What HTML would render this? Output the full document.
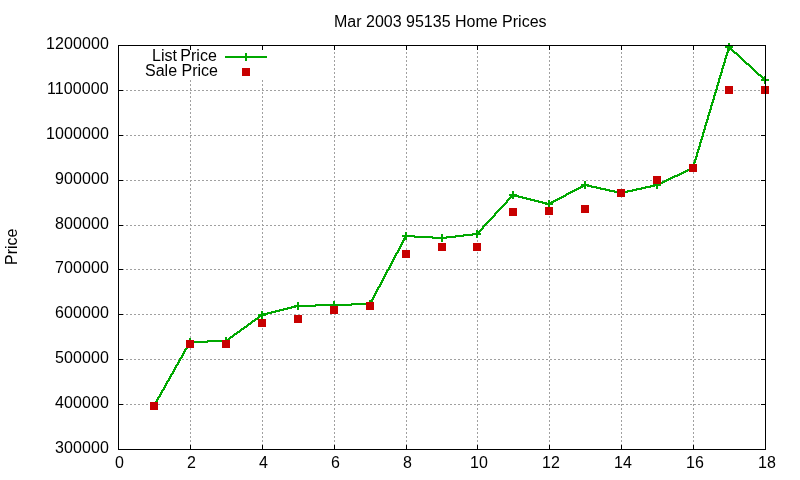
<!DOCTYPE html>
<html><head><meta charset="utf-8"><title>Mar 2003 95135 Home Prices</title>
<style>
html,body{margin:0;padding:0;background:#fff;}
body{width:800px;height:480px;position:relative;overflow:hidden;font-family:"Liberation Sans",sans-serif;}
#txt{position:absolute;left:0;top:0;width:800px;height:480px;will-change:transform;background:transparent;}
.t{position:absolute;font-family:"Liberation Sans",sans-serif;font-size:16px;line-height:18px;height:18px;white-space:nowrap;color:#000;}
</style></head><body>
<svg width="800" height="480" viewBox="0 0 800 480" shape-rendering="crispEdges" style="position:absolute;left:0;top:0"><path fill="#a0a0a0" d="M190 45h1v1h-1zM262 45h1v1h-1zM334 45h1v1h-1zM406 45h1v1h-1zM477 45h1v1h-1zM549 45h1v1h-1zM621 45h1v1h-1zM693 45h1v1h-1zM190 48h1v1h-1zM262 48h1v1h-1zM334 48h1v1h-1zM406 48h1v1h-1zM477 48h1v1h-1zM549 48h1v1h-1zM621 48h1v1h-1zM693 48h1v1h-1zM190 49h1v1h-1zM262 49h1v1h-1zM334 49h1v1h-1zM406 49h1v1h-1zM477 49h1v1h-1zM549 49h1v1h-1zM621 49h1v1h-1zM693 49h1v1h-1zM334 52h1v1h-1zM406 52h1v1h-1zM477 52h1v1h-1zM549 52h1v1h-1zM621 52h1v1h-1zM693 52h1v1h-1zM334 53h1v1h-1zM406 53h1v1h-1zM477 53h1v1h-1zM549 53h1v1h-1zM621 53h1v1h-1zM693 53h1v1h-1zM334 56h1v1h-1zM406 56h1v1h-1zM477 56h1v1h-1zM549 56h1v1h-1zM621 56h1v1h-1zM693 56h1v1h-1zM334 57h1v1h-1zM406 57h1v1h-1zM477 57h1v1h-1zM549 57h1v1h-1zM621 57h1v1h-1zM693 57h1v1h-1zM334 60h1v1h-1zM406 60h1v1h-1zM477 60h1v1h-1zM549 60h1v1h-1zM621 60h1v1h-1zM693 60h1v1h-1zM334 61h1v1h-1zM406 61h1v1h-1zM477 61h1v1h-1zM549 61h1v1h-1zM621 61h1v1h-1zM693 61h1v1h-1zM334 64h1v1h-1zM406 64h1v1h-1zM477 64h1v1h-1zM549 64h1v1h-1zM621 64h1v1h-1zM693 64h1v1h-1zM334 65h1v1h-1zM406 65h1v1h-1zM477 65h1v1h-1zM549 65h1v1h-1zM621 65h1v1h-1zM693 65h1v1h-1zM334 68h1v1h-1zM406 68h1v1h-1zM477 68h1v1h-1zM549 68h1v1h-1zM621 68h1v1h-1zM693 68h1v1h-1zM334 69h1v1h-1zM406 69h1v1h-1zM477 69h1v1h-1zM549 69h1v1h-1zM621 69h1v1h-1zM693 69h1v1h-1zM334 72h1v1h-1zM406 72h1v1h-1zM477 72h1v1h-1zM549 72h1v1h-1zM621 72h1v1h-1zM693 72h1v1h-1zM334 73h1v1h-1zM406 73h1v1h-1zM477 73h1v1h-1zM549 73h1v1h-1zM621 73h1v1h-1zM693 73h1v1h-1zM334 76h1v1h-1zM406 76h1v1h-1zM477 76h1v1h-1zM549 76h1v1h-1zM621 76h1v1h-1zM693 76h1v1h-1zM334 77h1v1h-1zM406 77h1v1h-1zM477 77h1v1h-1zM549 77h1v1h-1zM621 77h1v1h-1zM693 77h1v1h-1zM190 80h1v1h-1zM262 80h1v1h-1zM334 80h1v1h-1zM406 80h1v1h-1zM477 80h1v1h-1zM549 80h1v1h-1zM621 80h1v1h-1zM693 80h1v1h-1zM190 81h1v1h-1zM262 81h1v1h-1zM334 81h1v1h-1zM406 81h1v1h-1zM477 81h1v1h-1zM549 81h1v1h-1zM621 81h1v1h-1zM693 81h1v1h-1zM190 84h1v1h-1zM262 84h1v1h-1zM334 84h1v1h-1zM406 84h1v1h-1zM477 84h1v1h-1zM549 84h1v1h-1zM621 84h1v1h-1zM693 84h1v1h-1zM190 85h1v1h-1zM262 85h1v1h-1zM334 85h1v1h-1zM406 85h1v1h-1zM477 85h1v1h-1zM549 85h1v1h-1zM621 85h1v1h-1zM693 85h1v1h-1zM190 88h1v1h-1zM262 88h1v1h-1zM334 88h1v1h-1zM406 88h1v1h-1zM477 88h1v1h-1zM549 88h1v1h-1zM621 88h1v1h-1zM693 88h1v1h-1zM190 89h1v1h-1zM262 89h1v1h-1zM334 89h1v1h-1zM406 89h1v1h-1zM477 89h1v1h-1zM549 89h1v1h-1zM621 89h1v1h-1zM693 89h1v1h-1zM118 90h2v1h-2zM122 90h2v1h-2zM126 90h2v1h-2zM130 90h2v1h-2zM134 90h2v1h-2zM138 90h2v1h-2zM142 90h2v1h-2zM146 90h2v1h-2zM150 90h2v1h-2zM154 90h2v1h-2zM158 90h2v1h-2zM162 90h2v1h-2zM166 90h2v1h-2zM170 90h2v1h-2zM174 90h2v1h-2zM178 90h2v1h-2zM182 90h2v1h-2zM186 90h2v1h-2zM190 90h2v1h-2zM194 90h2v1h-2zM198 90h2v1h-2zM202 90h2v1h-2zM206 90h2v1h-2zM210 90h2v1h-2zM214 90h2v1h-2zM218 90h2v1h-2zM222 90h2v1h-2zM226 90h2v1h-2zM230 90h2v1h-2zM234 90h2v1h-2zM238 90h2v1h-2zM242 90h2v1h-2zM246 90h2v1h-2zM250 90h2v1h-2zM254 90h2v1h-2zM258 90h2v1h-2zM262 90h2v1h-2zM266 90h2v1h-2zM270 90h2v1h-2zM274 90h2v1h-2zM278 90h2v1h-2zM282 90h2v1h-2zM286 90h2v1h-2zM290 90h2v1h-2zM294 90h2v1h-2zM298 90h2v1h-2zM302 90h2v1h-2zM306 90h2v1h-2zM310 90h2v1h-2zM314 90h2v1h-2zM318 90h2v1h-2zM322 90h2v1h-2zM326 90h2v1h-2zM330 90h2v1h-2zM334 90h2v1h-2zM338 90h2v1h-2zM342 90h2v1h-2zM346 90h2v1h-2zM350 90h2v1h-2zM354 90h2v1h-2zM358 90h2v1h-2zM362 90h2v1h-2zM366 90h2v1h-2zM370 90h2v1h-2zM374 90h2v1h-2zM378 90h2v1h-2zM382 90h2v1h-2zM386 90h2v1h-2zM390 90h2v1h-2zM394 90h2v1h-2zM398 90h2v1h-2zM402 90h2v1h-2zM406 90h2v1h-2zM410 90h2v1h-2zM414 90h2v1h-2zM418 90h2v1h-2zM422 90h2v1h-2zM426 90h2v1h-2zM430 90h2v1h-2zM434 90h2v1h-2zM438 90h2v1h-2zM442 90h2v1h-2zM446 90h2v1h-2zM450 90h2v1h-2zM454 90h2v1h-2zM458 90h2v1h-2zM462 90h2v1h-2zM466 90h2v1h-2zM470 90h2v1h-2zM474 90h2v1h-2zM478 90h2v1h-2zM482 90h2v1h-2zM486 90h2v1h-2zM490 90h2v1h-2zM494 90h2v1h-2zM498 90h2v1h-2zM502 90h2v1h-2zM506 90h2v1h-2zM510 90h2v1h-2zM514 90h2v1h-2zM518 90h2v1h-2zM522 90h2v1h-2zM526 90h2v1h-2zM530 90h2v1h-2zM534 90h2v1h-2zM538 90h2v1h-2zM542 90h2v1h-2zM546 90h2v1h-2zM550 90h2v1h-2zM554 90h2v1h-2zM558 90h2v1h-2zM562 90h2v1h-2zM566 90h2v1h-2zM570 90h2v1h-2zM574 90h2v1h-2zM578 90h2v1h-2zM582 90h2v1h-2zM586 90h2v1h-2zM590 90h2v1h-2zM594 90h2v1h-2zM598 90h2v1h-2zM602 90h2v1h-2zM606 90h2v1h-2zM610 90h2v1h-2zM614 90h2v1h-2zM618 90h2v1h-2zM622 90h2v1h-2zM626 90h2v1h-2zM630 90h2v1h-2zM634 90h2v1h-2zM638 90h2v1h-2zM642 90h2v1h-2zM646 90h2v1h-2zM650 90h2v1h-2zM654 90h2v1h-2zM658 90h2v1h-2zM662 90h2v1h-2zM666 90h2v1h-2zM670 90h2v1h-2zM674 90h2v1h-2zM678 90h2v1h-2zM682 90h2v1h-2zM686 90h2v1h-2zM690 90h2v1h-2zM694 90h2v1h-2zM698 90h2v1h-2zM702 90h2v1h-2zM706 90h2v1h-2zM710 90h2v1h-2zM714 90h2v1h-2zM718 90h2v1h-2zM722 90h2v1h-2zM726 90h2v1h-2zM730 90h2v1h-2zM734 90h2v1h-2zM738 90h2v1h-2zM742 90h2v1h-2zM746 90h2v1h-2zM750 90h2v1h-2zM754 90h2v1h-2zM758 90h2v1h-2zM762 90h2v1h-2zM190 92h1v1h-1zM262 92h1v1h-1zM334 92h1v1h-1zM406 92h1v1h-1zM477 92h1v1h-1zM549 92h1v1h-1zM621 92h1v1h-1zM693 92h1v1h-1zM190 93h1v1h-1zM262 93h1v1h-1zM334 93h1v1h-1zM406 93h1v1h-1zM477 93h1v1h-1zM549 93h1v1h-1zM621 93h1v1h-1zM693 93h1v1h-1zM190 96h1v1h-1zM262 96h1v1h-1zM334 96h1v1h-1zM406 96h1v1h-1zM477 96h1v1h-1zM549 96h1v1h-1zM621 96h1v1h-1zM693 96h1v1h-1zM190 97h1v1h-1zM262 97h1v1h-1zM334 97h1v1h-1zM406 97h1v1h-1zM477 97h1v1h-1zM549 97h1v1h-1zM621 97h1v1h-1zM693 97h1v1h-1zM190 100h1v1h-1zM262 100h1v1h-1zM334 100h1v1h-1zM406 100h1v1h-1zM477 100h1v1h-1zM549 100h1v1h-1zM621 100h1v1h-1zM693 100h1v1h-1zM190 101h1v1h-1zM262 101h1v1h-1zM334 101h1v1h-1zM406 101h1v1h-1zM477 101h1v1h-1zM549 101h1v1h-1zM621 101h1v1h-1zM693 101h1v1h-1zM190 104h1v1h-1zM262 104h1v1h-1zM334 104h1v1h-1zM406 104h1v1h-1zM477 104h1v1h-1zM549 104h1v1h-1zM621 104h1v1h-1zM693 104h1v1h-1zM190 105h1v1h-1zM262 105h1v1h-1zM334 105h1v1h-1zM406 105h1v1h-1zM477 105h1v1h-1zM549 105h1v1h-1zM621 105h1v1h-1zM693 105h1v1h-1zM190 108h1v1h-1zM262 108h1v1h-1zM334 108h1v1h-1zM406 108h1v1h-1zM477 108h1v1h-1zM549 108h1v1h-1zM621 108h1v1h-1zM693 108h1v1h-1zM190 109h1v1h-1zM262 109h1v1h-1zM334 109h1v1h-1zM406 109h1v1h-1zM477 109h1v1h-1zM549 109h1v1h-1zM621 109h1v1h-1zM693 109h1v1h-1zM190 112h1v1h-1zM262 112h1v1h-1zM334 112h1v1h-1zM406 112h1v1h-1zM477 112h1v1h-1zM549 112h1v1h-1zM621 112h1v1h-1zM693 112h1v1h-1zM190 113h1v1h-1zM262 113h1v1h-1zM334 113h1v1h-1zM406 113h1v1h-1zM477 113h1v1h-1zM549 113h1v1h-1zM621 113h1v1h-1zM693 113h1v1h-1zM190 116h1v1h-1zM262 116h1v1h-1zM334 116h1v1h-1zM406 116h1v1h-1zM477 116h1v1h-1zM549 116h1v1h-1zM621 116h1v1h-1zM693 116h1v1h-1zM190 117h1v1h-1zM262 117h1v1h-1zM334 117h1v1h-1zM406 117h1v1h-1zM477 117h1v1h-1zM549 117h1v1h-1zM621 117h1v1h-1zM693 117h1v1h-1zM190 120h1v1h-1zM262 120h1v1h-1zM334 120h1v1h-1zM406 120h1v1h-1zM477 120h1v1h-1zM549 120h1v1h-1zM621 120h1v1h-1zM693 120h1v1h-1zM190 121h1v1h-1zM262 121h1v1h-1zM334 121h1v1h-1zM406 121h1v1h-1zM477 121h1v1h-1zM549 121h1v1h-1zM621 121h1v1h-1zM693 121h1v1h-1zM190 124h1v1h-1zM262 124h1v1h-1zM334 124h1v1h-1zM406 124h1v1h-1zM477 124h1v1h-1zM549 124h1v1h-1zM621 124h1v1h-1zM693 124h1v1h-1zM190 125h1v1h-1zM262 125h1v1h-1zM334 125h1v1h-1zM406 125h1v1h-1zM477 125h1v1h-1zM549 125h1v1h-1zM621 125h1v1h-1zM693 125h1v1h-1zM190 128h1v1h-1zM262 128h1v1h-1zM334 128h1v1h-1zM406 128h1v1h-1zM477 128h1v1h-1zM549 128h1v1h-1zM621 128h1v1h-1zM693 128h1v1h-1zM190 129h1v1h-1zM262 129h1v1h-1zM334 129h1v1h-1zM406 129h1v1h-1zM477 129h1v1h-1zM549 129h1v1h-1zM621 129h1v1h-1zM693 129h1v1h-1zM190 132h1v1h-1zM262 132h1v1h-1zM334 132h1v1h-1zM406 132h1v1h-1zM477 132h1v1h-1zM549 132h1v1h-1zM621 132h1v1h-1zM693 132h1v1h-1zM190 133h1v1h-1zM262 133h1v1h-1zM334 133h1v1h-1zM406 133h1v1h-1zM477 133h1v1h-1zM549 133h1v1h-1zM621 133h1v1h-1zM693 133h1v1h-1zM118 135h2v1h-2zM122 135h2v1h-2zM126 135h2v1h-2zM130 135h2v1h-2zM134 135h2v1h-2zM138 135h2v1h-2zM142 135h2v1h-2zM146 135h2v1h-2zM150 135h2v1h-2zM154 135h2v1h-2zM158 135h2v1h-2zM162 135h2v1h-2zM166 135h2v1h-2zM170 135h2v1h-2zM174 135h2v1h-2zM178 135h2v1h-2zM182 135h2v1h-2zM186 135h2v1h-2zM190 135h2v1h-2zM194 135h2v1h-2zM198 135h2v1h-2zM202 135h2v1h-2zM206 135h2v1h-2zM210 135h2v1h-2zM214 135h2v1h-2zM218 135h2v1h-2zM222 135h2v1h-2zM226 135h2v1h-2zM230 135h2v1h-2zM234 135h2v1h-2zM238 135h2v1h-2zM242 135h2v1h-2zM246 135h2v1h-2zM250 135h2v1h-2zM254 135h2v1h-2zM258 135h2v1h-2zM262 135h2v1h-2zM266 135h2v1h-2zM270 135h2v1h-2zM274 135h2v1h-2zM278 135h2v1h-2zM282 135h2v1h-2zM286 135h2v1h-2zM290 135h2v1h-2zM294 135h2v1h-2zM298 135h2v1h-2zM302 135h2v1h-2zM306 135h2v1h-2zM310 135h2v1h-2zM314 135h2v1h-2zM318 135h2v1h-2zM322 135h2v1h-2zM326 135h2v1h-2zM330 135h2v1h-2zM334 135h2v1h-2zM338 135h2v1h-2zM342 135h2v1h-2zM346 135h2v1h-2zM350 135h2v1h-2zM354 135h2v1h-2zM358 135h2v1h-2zM362 135h2v1h-2zM366 135h2v1h-2zM370 135h2v1h-2zM374 135h2v1h-2zM378 135h2v1h-2zM382 135h2v1h-2zM386 135h2v1h-2zM390 135h2v1h-2zM394 135h2v1h-2zM398 135h2v1h-2zM402 135h2v1h-2zM406 135h2v1h-2zM410 135h2v1h-2zM414 135h2v1h-2zM418 135h2v1h-2zM422 135h2v1h-2zM426 135h2v1h-2zM430 135h2v1h-2zM434 135h2v1h-2zM438 135h2v1h-2zM442 135h2v1h-2zM446 135h2v1h-2zM450 135h2v1h-2zM454 135h2v1h-2zM458 135h2v1h-2zM462 135h2v1h-2zM466 135h2v1h-2zM470 135h2v1h-2zM474 135h2v1h-2zM478 135h2v1h-2zM482 135h2v1h-2zM486 135h2v1h-2zM490 135h2v1h-2zM494 135h2v1h-2zM498 135h2v1h-2zM502 135h2v1h-2zM506 135h2v1h-2zM510 135h2v1h-2zM514 135h2v1h-2zM518 135h2v1h-2zM522 135h2v1h-2zM526 135h2v1h-2zM530 135h2v1h-2zM534 135h2v1h-2zM538 135h2v1h-2zM542 135h2v1h-2zM546 135h2v1h-2zM550 135h2v1h-2zM554 135h2v1h-2zM558 135h2v1h-2zM562 135h2v1h-2zM566 135h2v1h-2zM570 135h2v1h-2zM574 135h2v1h-2zM578 135h2v1h-2zM582 135h2v1h-2zM586 135h2v1h-2zM590 135h2v1h-2zM594 135h2v1h-2zM598 135h2v1h-2zM602 135h2v1h-2zM606 135h2v1h-2zM610 135h2v1h-2zM614 135h2v1h-2zM618 135h2v1h-2zM622 135h2v1h-2zM626 135h2v1h-2zM630 135h2v1h-2zM634 135h2v1h-2zM638 135h2v1h-2zM642 135h2v1h-2zM646 135h2v1h-2zM650 135h2v1h-2zM654 135h2v1h-2zM658 135h2v1h-2zM662 135h2v1h-2zM666 135h2v1h-2zM670 135h2v1h-2zM674 135h2v1h-2zM678 135h2v1h-2zM682 135h2v1h-2zM686 135h2v1h-2zM690 135h2v1h-2zM694 135h2v1h-2zM698 135h2v1h-2zM702 135h2v1h-2zM706 135h2v1h-2zM710 135h2v1h-2zM714 135h2v1h-2zM718 135h2v1h-2zM722 135h2v1h-2zM726 135h2v1h-2zM730 135h2v1h-2zM734 135h2v1h-2zM738 135h2v1h-2zM742 135h2v1h-2zM746 135h2v1h-2zM750 135h2v1h-2zM754 135h2v1h-2zM758 135h2v1h-2zM762 135h2v1h-2zM190 136h1v1h-1zM262 136h1v1h-1zM334 136h1v1h-1zM406 136h1v1h-1zM477 136h1v1h-1zM549 136h1v1h-1zM621 136h1v1h-1zM693 136h1v1h-1zM190 137h1v1h-1zM262 137h1v1h-1zM334 137h1v1h-1zM406 137h1v1h-1zM477 137h1v1h-1zM549 137h1v1h-1zM621 137h1v1h-1zM693 137h1v1h-1zM190 140h1v1h-1zM262 140h1v1h-1zM334 140h1v1h-1zM406 140h1v1h-1zM477 140h1v1h-1zM549 140h1v1h-1zM621 140h1v1h-1zM693 140h1v1h-1zM190 141h1v1h-1zM262 141h1v1h-1zM334 141h1v1h-1zM406 141h1v1h-1zM477 141h1v1h-1zM549 141h1v1h-1zM621 141h1v1h-1zM693 141h1v1h-1zM190 144h1v1h-1zM262 144h1v1h-1zM334 144h1v1h-1zM406 144h1v1h-1zM477 144h1v1h-1zM549 144h1v1h-1zM621 144h1v1h-1zM693 144h1v1h-1zM190 145h1v1h-1zM262 145h1v1h-1zM334 145h1v1h-1zM406 145h1v1h-1zM477 145h1v1h-1zM549 145h1v1h-1zM621 145h1v1h-1zM693 145h1v1h-1zM190 148h1v1h-1zM262 148h1v1h-1zM334 148h1v1h-1zM406 148h1v1h-1zM477 148h1v1h-1zM549 148h1v1h-1zM621 148h1v1h-1zM693 148h1v1h-1zM190 149h1v1h-1zM262 149h1v1h-1zM334 149h1v1h-1zM406 149h1v1h-1zM477 149h1v1h-1zM549 149h1v1h-1zM621 149h1v1h-1zM693 149h1v1h-1zM190 152h1v1h-1zM262 152h1v1h-1zM334 152h1v1h-1zM406 152h1v1h-1zM477 152h1v1h-1zM549 152h1v1h-1zM621 152h1v1h-1zM693 152h1v1h-1zM190 153h1v1h-1zM262 153h1v1h-1zM334 153h1v1h-1zM406 153h1v1h-1zM477 153h1v1h-1zM549 153h1v1h-1zM621 153h1v1h-1zM693 153h1v1h-1zM190 156h1v1h-1zM262 156h1v1h-1zM334 156h1v1h-1zM406 156h1v1h-1zM477 156h1v1h-1zM549 156h1v1h-1zM621 156h1v1h-1zM693 156h1v1h-1zM190 157h1v1h-1zM262 157h1v1h-1zM334 157h1v1h-1zM406 157h1v1h-1zM477 157h1v1h-1zM549 157h1v1h-1zM621 157h1v1h-1zM693 157h1v1h-1zM190 160h1v1h-1zM262 160h1v1h-1zM334 160h1v1h-1zM406 160h1v1h-1zM477 160h1v1h-1zM549 160h1v1h-1zM621 160h1v1h-1zM693 160h1v1h-1zM190 161h1v1h-1zM262 161h1v1h-1zM334 161h1v1h-1zM406 161h1v1h-1zM477 161h1v1h-1zM549 161h1v1h-1zM621 161h1v1h-1zM693 161h1v1h-1zM190 164h1v1h-1zM262 164h1v1h-1zM334 164h1v1h-1zM406 164h1v1h-1zM477 164h1v1h-1zM549 164h1v1h-1zM621 164h1v1h-1zM693 164h1v1h-1zM190 165h1v1h-1zM262 165h1v1h-1zM334 165h1v1h-1zM406 165h1v1h-1zM477 165h1v1h-1zM549 165h1v1h-1zM621 165h1v1h-1zM693 165h1v1h-1zM190 168h1v1h-1zM262 168h1v1h-1zM334 168h1v1h-1zM406 168h1v1h-1zM477 168h1v1h-1zM549 168h1v1h-1zM621 168h1v1h-1zM693 168h1v1h-1zM190 169h1v1h-1zM262 169h1v1h-1zM334 169h1v1h-1zM406 169h1v1h-1zM477 169h1v1h-1zM549 169h1v1h-1zM621 169h1v1h-1zM693 169h1v1h-1zM190 172h1v1h-1zM262 172h1v1h-1zM334 172h1v1h-1zM406 172h1v1h-1zM477 172h1v1h-1zM549 172h1v1h-1zM621 172h1v1h-1zM693 172h1v1h-1zM190 173h1v1h-1zM262 173h1v1h-1zM334 173h1v1h-1zM406 173h1v1h-1zM477 173h1v1h-1zM549 173h1v1h-1zM621 173h1v1h-1zM693 173h1v1h-1zM190 176h1v1h-1zM262 176h1v1h-1zM334 176h1v1h-1zM406 176h1v1h-1zM477 176h1v1h-1zM549 176h1v1h-1zM621 176h1v1h-1zM693 176h1v1h-1zM190 177h1v1h-1zM262 177h1v1h-1zM334 177h1v1h-1zM406 177h1v1h-1zM477 177h1v1h-1zM549 177h1v1h-1zM621 177h1v1h-1zM693 177h1v1h-1zM118 180h2v1h-2zM122 180h2v1h-2zM126 180h2v1h-2zM130 180h2v1h-2zM134 180h2v1h-2zM138 180h2v1h-2zM142 180h2v1h-2zM146 180h2v1h-2zM150 180h2v1h-2zM154 180h2v1h-2zM158 180h2v1h-2zM162 180h2v1h-2zM166 180h2v1h-2zM170 180h2v1h-2zM174 180h2v1h-2zM178 180h2v1h-2zM182 180h2v1h-2zM186 180h2v1h-2zM190 180h2v1h-2zM194 180h2v1h-2zM198 180h2v1h-2zM202 180h2v1h-2zM206 180h2v1h-2zM210 180h2v1h-2zM214 180h2v1h-2zM218 180h2v1h-2zM222 180h2v1h-2zM226 180h2v1h-2zM230 180h2v1h-2zM234 180h2v1h-2zM238 180h2v1h-2zM242 180h2v1h-2zM246 180h2v1h-2zM250 180h2v1h-2zM254 180h2v1h-2zM258 180h2v1h-2zM262 180h2v1h-2zM266 180h2v1h-2zM270 180h2v1h-2zM274 180h2v1h-2zM278 180h2v1h-2zM282 180h2v1h-2zM286 180h2v1h-2zM290 180h2v1h-2zM294 180h2v1h-2zM298 180h2v1h-2zM302 180h2v1h-2zM306 180h2v1h-2zM310 180h2v1h-2zM314 180h2v1h-2zM318 180h2v1h-2zM322 180h2v1h-2zM326 180h2v1h-2zM330 180h2v1h-2zM334 180h2v1h-2zM338 180h2v1h-2zM342 180h2v1h-2zM346 180h2v1h-2zM350 180h2v1h-2zM354 180h2v1h-2zM358 180h2v1h-2zM362 180h2v1h-2zM366 180h2v1h-2zM370 180h2v1h-2zM374 180h2v1h-2zM378 180h2v1h-2zM382 180h2v1h-2zM386 180h2v1h-2zM390 180h2v1h-2zM394 180h2v1h-2zM398 180h2v1h-2zM402 180h2v1h-2zM406 180h2v1h-2zM410 180h2v1h-2zM414 180h2v1h-2zM418 180h2v1h-2zM422 180h2v1h-2zM426 180h2v1h-2zM430 180h2v1h-2zM434 180h2v1h-2zM438 180h2v1h-2zM442 180h2v1h-2zM446 180h2v1h-2zM450 180h2v1h-2zM454 180h2v1h-2zM458 180h2v1h-2zM462 180h2v1h-2zM466 180h2v1h-2zM470 180h2v1h-2zM474 180h2v1h-2zM477 180h3v1h-3zM482 180h2v1h-2zM486 180h2v1h-2zM490 180h2v1h-2zM494 180h2v1h-2zM498 180h2v1h-2zM502 180h2v1h-2zM506 180h2v1h-2zM510 180h2v1h-2zM514 180h2v1h-2zM518 180h2v1h-2zM522 180h2v1h-2zM526 180h2v1h-2zM530 180h2v1h-2zM534 180h2v1h-2zM538 180h2v1h-2zM542 180h2v1h-2zM546 180h2v1h-2zM549 180h3v1h-3zM554 180h2v1h-2zM558 180h2v1h-2zM562 180h2v1h-2zM566 180h2v1h-2zM570 180h2v1h-2zM574 180h2v1h-2zM578 180h2v1h-2zM582 180h2v1h-2zM586 180h2v1h-2zM590 180h2v1h-2zM594 180h2v1h-2zM598 180h2v1h-2zM602 180h2v1h-2zM606 180h2v1h-2zM610 180h2v1h-2zM614 180h2v1h-2zM618 180h2v1h-2zM621 180h3v1h-3zM626 180h2v1h-2zM630 180h2v1h-2zM634 180h2v1h-2zM638 180h2v1h-2zM642 180h2v1h-2zM646 180h2v1h-2zM650 180h2v1h-2zM654 180h2v1h-2zM658 180h2v1h-2zM662 180h2v1h-2zM666 180h2v1h-2zM670 180h2v1h-2zM674 180h2v1h-2zM678 180h2v1h-2zM682 180h2v1h-2zM686 180h2v1h-2zM690 180h2v1h-2zM693 180h3v1h-3zM698 180h2v1h-2zM702 180h2v1h-2zM706 180h2v1h-2zM710 180h2v1h-2zM714 180h2v1h-2zM718 180h2v1h-2zM722 180h2v1h-2zM726 180h2v1h-2zM730 180h2v1h-2zM734 180h2v1h-2zM738 180h2v1h-2zM742 180h2v1h-2zM746 180h2v1h-2zM750 180h2v1h-2zM754 180h2v1h-2zM758 180h2v1h-2zM762 180h2v1h-2zM190 181h1v1h-1zM262 181h1v1h-1zM334 181h1v1h-1zM406 181h1v1h-1zM477 181h1v1h-1zM549 181h1v1h-1zM621 181h1v1h-1zM693 181h1v1h-1zM190 184h1v1h-1zM262 184h1v1h-1zM334 184h1v1h-1zM406 184h1v1h-1zM477 184h1v1h-1zM549 184h1v1h-1zM621 184h1v1h-1zM693 184h1v1h-1zM190 185h1v1h-1zM262 185h1v1h-1zM334 185h1v1h-1zM406 185h1v1h-1zM477 185h1v1h-1zM549 185h1v1h-1zM621 185h1v1h-1zM693 185h1v1h-1zM190 188h1v1h-1zM262 188h1v1h-1zM334 188h1v1h-1zM406 188h1v1h-1zM477 188h1v1h-1zM549 188h1v1h-1zM621 188h1v1h-1zM693 188h1v1h-1zM190 189h1v1h-1zM262 189h1v1h-1zM334 189h1v1h-1zM406 189h1v1h-1zM477 189h1v1h-1zM549 189h1v1h-1zM621 189h1v1h-1zM693 189h1v1h-1zM190 192h1v1h-1zM262 192h1v1h-1zM334 192h1v1h-1zM406 192h1v1h-1zM477 192h1v1h-1zM549 192h1v1h-1zM621 192h1v1h-1zM693 192h1v1h-1zM190 193h1v1h-1zM262 193h1v1h-1zM334 193h1v1h-1zM406 193h1v1h-1zM477 193h1v1h-1zM549 193h1v1h-1zM621 193h1v1h-1zM693 193h1v1h-1zM190 196h1v1h-1zM262 196h1v1h-1zM334 196h1v1h-1zM406 196h1v1h-1zM477 196h1v1h-1zM549 196h1v1h-1zM621 196h1v1h-1zM693 196h1v1h-1zM190 197h1v1h-1zM262 197h1v1h-1zM334 197h1v1h-1zM406 197h1v1h-1zM477 197h1v1h-1zM549 197h1v1h-1zM621 197h1v1h-1zM693 197h1v1h-1zM190 200h1v1h-1zM262 200h1v1h-1zM334 200h1v1h-1zM406 200h1v1h-1zM477 200h1v1h-1zM549 200h1v1h-1zM621 200h1v1h-1zM693 200h1v1h-1zM190 201h1v1h-1zM262 201h1v1h-1zM334 201h1v1h-1zM406 201h1v1h-1zM477 201h1v1h-1zM549 201h1v1h-1zM621 201h1v1h-1zM693 201h1v1h-1zM190 204h1v1h-1zM262 204h1v1h-1zM334 204h1v1h-1zM406 204h1v1h-1zM477 204h1v1h-1zM549 204h1v1h-1zM621 204h1v1h-1zM693 204h1v1h-1zM190 205h1v1h-1zM262 205h1v1h-1zM334 205h1v1h-1zM406 205h1v1h-1zM477 205h1v1h-1zM549 205h1v1h-1zM621 205h1v1h-1zM693 205h1v1h-1zM190 208h1v1h-1zM262 208h1v1h-1zM334 208h1v1h-1zM406 208h1v1h-1zM477 208h1v1h-1zM549 208h1v1h-1zM621 208h1v1h-1zM693 208h1v1h-1zM190 209h1v1h-1zM262 209h1v1h-1zM334 209h1v1h-1zM406 209h1v1h-1zM477 209h1v1h-1zM549 209h1v1h-1zM621 209h1v1h-1zM693 209h1v1h-1zM190 212h1v1h-1zM262 212h1v1h-1zM334 212h1v1h-1zM406 212h1v1h-1zM477 212h1v1h-1zM549 212h1v1h-1zM621 212h1v1h-1zM693 212h1v1h-1zM190 213h1v1h-1zM262 213h1v1h-1zM334 213h1v1h-1zM406 213h1v1h-1zM477 213h1v1h-1zM549 213h1v1h-1zM621 213h1v1h-1zM693 213h1v1h-1zM190 216h1v1h-1zM262 216h1v1h-1zM334 216h1v1h-1zM406 216h1v1h-1zM477 216h1v1h-1zM549 216h1v1h-1zM621 216h1v1h-1zM693 216h1v1h-1zM190 217h1v1h-1zM262 217h1v1h-1zM334 217h1v1h-1zM406 217h1v1h-1zM477 217h1v1h-1zM549 217h1v1h-1zM621 217h1v1h-1zM693 217h1v1h-1zM190 220h1v1h-1zM262 220h1v1h-1zM334 220h1v1h-1zM406 220h1v1h-1zM477 220h1v1h-1zM549 220h1v1h-1zM621 220h1v1h-1zM693 220h1v1h-1zM190 221h1v1h-1zM262 221h1v1h-1zM334 221h1v1h-1zM406 221h1v1h-1zM477 221h1v1h-1zM549 221h1v1h-1zM621 221h1v1h-1zM693 221h1v1h-1zM190 224h1v1h-1zM262 224h1v1h-1zM334 224h1v1h-1zM406 224h1v1h-1zM477 224h1v1h-1zM549 224h1v1h-1zM621 224h1v1h-1zM693 224h1v1h-1zM118 225h2v1h-2zM122 225h2v1h-2zM126 225h2v1h-2zM130 225h2v1h-2zM134 225h2v1h-2zM138 225h2v1h-2zM142 225h2v1h-2zM146 225h2v1h-2zM150 225h2v1h-2zM154 225h2v1h-2zM158 225h2v1h-2zM162 225h2v1h-2zM166 225h2v1h-2zM170 225h2v1h-2zM174 225h2v1h-2zM178 225h2v1h-2zM182 225h2v1h-2zM186 225h2v1h-2zM190 225h2v1h-2zM194 225h2v1h-2zM198 225h2v1h-2zM202 225h2v1h-2zM206 225h2v1h-2zM210 225h2v1h-2zM214 225h2v1h-2zM218 225h2v1h-2zM222 225h2v1h-2zM226 225h2v1h-2zM230 225h2v1h-2zM234 225h2v1h-2zM238 225h2v1h-2zM242 225h2v1h-2zM246 225h2v1h-2zM250 225h2v1h-2zM254 225h2v1h-2zM258 225h2v1h-2zM262 225h2v1h-2zM266 225h2v1h-2zM270 225h2v1h-2zM274 225h2v1h-2zM278 225h2v1h-2zM282 225h2v1h-2zM286 225h2v1h-2zM290 225h2v1h-2zM294 225h2v1h-2zM298 225h2v1h-2zM302 225h2v1h-2zM306 225h2v1h-2zM310 225h2v1h-2zM314 225h2v1h-2zM318 225h2v1h-2zM322 225h2v1h-2zM326 225h2v1h-2zM330 225h2v1h-2zM334 225h2v1h-2zM338 225h2v1h-2zM342 225h2v1h-2zM346 225h2v1h-2zM350 225h2v1h-2zM354 225h2v1h-2zM358 225h2v1h-2zM362 225h2v1h-2zM366 225h2v1h-2zM370 225h2v1h-2zM374 225h2v1h-2zM378 225h2v1h-2zM382 225h2v1h-2zM386 225h2v1h-2zM390 225h2v1h-2zM394 225h2v1h-2zM398 225h2v1h-2zM402 225h2v1h-2zM406 225h2v1h-2zM410 225h2v1h-2zM414 225h2v1h-2zM418 225h2v1h-2zM422 225h2v1h-2zM426 225h2v1h-2zM430 225h2v1h-2zM434 225h2v1h-2zM438 225h2v1h-2zM442 225h2v1h-2zM446 225h2v1h-2zM450 225h2v1h-2zM454 225h2v1h-2zM458 225h2v1h-2zM462 225h2v1h-2zM466 225h2v1h-2zM470 225h2v1h-2zM474 225h2v1h-2zM477 225h3v1h-3zM482 225h2v1h-2zM486 225h2v1h-2zM490 225h2v1h-2zM494 225h2v1h-2zM498 225h2v1h-2zM502 225h2v1h-2zM506 225h2v1h-2zM510 225h2v1h-2zM514 225h2v1h-2zM518 225h2v1h-2zM522 225h2v1h-2zM526 225h2v1h-2zM530 225h2v1h-2zM534 225h2v1h-2zM538 225h2v1h-2zM542 225h2v1h-2zM546 225h2v1h-2zM549 225h3v1h-3zM554 225h2v1h-2zM558 225h2v1h-2zM562 225h2v1h-2zM566 225h2v1h-2zM570 225h2v1h-2zM574 225h2v1h-2zM578 225h2v1h-2zM582 225h2v1h-2zM586 225h2v1h-2zM590 225h2v1h-2zM594 225h2v1h-2zM598 225h2v1h-2zM602 225h2v1h-2zM606 225h2v1h-2zM610 225h2v1h-2zM614 225h2v1h-2zM618 225h2v1h-2zM621 225h3v1h-3zM626 225h2v1h-2zM630 225h2v1h-2zM634 225h2v1h-2zM638 225h2v1h-2zM642 225h2v1h-2zM646 225h2v1h-2zM650 225h2v1h-2zM654 225h2v1h-2zM658 225h2v1h-2zM662 225h2v1h-2zM666 225h2v1h-2zM670 225h2v1h-2zM674 225h2v1h-2zM678 225h2v1h-2zM682 225h2v1h-2zM686 225h2v1h-2zM690 225h2v1h-2zM693 225h3v1h-3zM698 225h2v1h-2zM702 225h2v1h-2zM706 225h2v1h-2zM710 225h2v1h-2zM714 225h2v1h-2zM718 225h2v1h-2zM722 225h2v1h-2zM726 225h2v1h-2zM730 225h2v1h-2zM734 225h2v1h-2zM738 225h2v1h-2zM742 225h2v1h-2zM746 225h2v1h-2zM750 225h2v1h-2zM754 225h2v1h-2zM758 225h2v1h-2zM762 225h2v1h-2zM190 228h1v1h-1zM262 228h1v1h-1zM334 228h1v1h-1zM406 228h1v1h-1zM477 228h1v1h-1zM549 228h1v1h-1zM621 228h1v1h-1zM693 228h1v1h-1zM190 229h1v1h-1zM262 229h1v1h-1zM334 229h1v1h-1zM406 229h1v1h-1zM477 229h1v1h-1zM549 229h1v1h-1zM621 229h1v1h-1zM693 229h1v1h-1zM190 232h1v1h-1zM262 232h1v1h-1zM334 232h1v1h-1zM406 232h1v1h-1zM477 232h1v1h-1zM549 232h1v1h-1zM621 232h1v1h-1zM693 232h1v1h-1zM190 233h1v1h-1zM262 233h1v1h-1zM334 233h1v1h-1zM406 233h1v1h-1zM477 233h1v1h-1zM549 233h1v1h-1zM621 233h1v1h-1zM693 233h1v1h-1zM190 236h1v1h-1zM262 236h1v1h-1zM334 236h1v1h-1zM406 236h1v1h-1zM477 236h1v1h-1zM549 236h1v1h-1zM621 236h1v1h-1zM693 236h1v1h-1zM190 237h1v1h-1zM262 237h1v1h-1zM334 237h1v1h-1zM406 237h1v1h-1zM477 237h1v1h-1zM549 237h1v1h-1zM621 237h1v1h-1zM693 237h1v1h-1zM190 240h1v1h-1zM262 240h1v1h-1zM334 240h1v1h-1zM406 240h1v1h-1zM477 240h1v1h-1zM549 240h1v1h-1zM621 240h1v1h-1zM693 240h1v1h-1zM190 241h1v1h-1zM262 241h1v1h-1zM334 241h1v1h-1zM406 241h1v1h-1zM477 241h1v1h-1zM549 241h1v1h-1zM621 241h1v1h-1zM693 241h1v1h-1zM190 244h1v1h-1zM262 244h1v1h-1zM334 244h1v1h-1zM406 244h1v1h-1zM477 244h1v1h-1zM549 244h1v1h-1zM621 244h1v1h-1zM693 244h1v1h-1zM190 245h1v1h-1zM262 245h1v1h-1zM334 245h1v1h-1zM406 245h1v1h-1zM477 245h1v1h-1zM549 245h1v1h-1zM621 245h1v1h-1zM693 245h1v1h-1zM190 248h1v1h-1zM262 248h1v1h-1zM334 248h1v1h-1zM406 248h1v1h-1zM477 248h1v1h-1zM549 248h1v1h-1zM621 248h1v1h-1zM693 248h1v1h-1zM190 249h1v1h-1zM262 249h1v1h-1zM334 249h1v1h-1zM406 249h1v1h-1zM477 249h1v1h-1zM549 249h1v1h-1zM621 249h1v1h-1zM693 249h1v1h-1zM190 252h1v1h-1zM262 252h1v1h-1zM334 252h1v1h-1zM406 252h1v1h-1zM477 252h1v1h-1zM549 252h1v1h-1zM621 252h1v1h-1zM693 252h1v1h-1zM190 253h1v1h-1zM262 253h1v1h-1zM334 253h1v1h-1zM406 253h1v1h-1zM477 253h1v1h-1zM549 253h1v1h-1zM621 253h1v1h-1zM693 253h1v1h-1zM190 256h1v1h-1zM262 256h1v1h-1zM334 256h1v1h-1zM406 256h1v1h-1zM477 256h1v1h-1zM549 256h1v1h-1zM621 256h1v1h-1zM693 256h1v1h-1zM190 257h1v1h-1zM262 257h1v1h-1zM334 257h1v1h-1zM406 257h1v1h-1zM477 257h1v1h-1zM549 257h1v1h-1zM621 257h1v1h-1zM693 257h1v1h-1zM190 260h1v1h-1zM262 260h1v1h-1zM334 260h1v1h-1zM406 260h1v1h-1zM477 260h1v1h-1zM549 260h1v1h-1zM621 260h1v1h-1zM693 260h1v1h-1zM190 261h1v1h-1zM262 261h1v1h-1zM334 261h1v1h-1zM406 261h1v1h-1zM477 261h1v1h-1zM549 261h1v1h-1zM621 261h1v1h-1zM693 261h1v1h-1zM190 264h1v1h-1zM262 264h1v1h-1zM334 264h1v1h-1zM406 264h1v1h-1zM477 264h1v1h-1zM549 264h1v1h-1zM621 264h1v1h-1zM693 264h1v1h-1zM190 265h1v1h-1zM262 265h1v1h-1zM334 265h1v1h-1zM406 265h1v1h-1zM477 265h1v1h-1zM549 265h1v1h-1zM621 265h1v1h-1zM693 265h1v1h-1zM190 268h1v1h-1zM262 268h1v1h-1zM334 268h1v1h-1zM406 268h1v1h-1zM477 268h1v1h-1zM549 268h1v1h-1zM621 268h1v1h-1zM693 268h1v1h-1zM118 269h2v1h-2zM122 269h2v1h-2zM126 269h2v1h-2zM130 269h2v1h-2zM134 269h2v1h-2zM138 269h2v1h-2zM142 269h2v1h-2zM146 269h2v1h-2zM150 269h2v1h-2zM154 269h2v1h-2zM158 269h2v1h-2zM162 269h2v1h-2zM166 269h2v1h-2zM170 269h2v1h-2zM174 269h2v1h-2zM178 269h2v1h-2zM182 269h2v1h-2zM186 269h2v1h-2zM190 269h2v1h-2zM194 269h2v1h-2zM198 269h2v1h-2zM202 269h2v1h-2zM206 269h2v1h-2zM210 269h2v1h-2zM214 269h2v1h-2zM218 269h2v1h-2zM222 269h2v1h-2zM226 269h2v1h-2zM230 269h2v1h-2zM234 269h2v1h-2zM238 269h2v1h-2zM242 269h2v1h-2zM246 269h2v1h-2zM250 269h2v1h-2zM254 269h2v1h-2zM258 269h2v1h-2zM262 269h2v1h-2zM266 269h2v1h-2zM270 269h2v1h-2zM274 269h2v1h-2zM278 269h2v1h-2zM282 269h2v1h-2zM286 269h2v1h-2zM290 269h2v1h-2zM294 269h2v1h-2zM298 269h2v1h-2zM302 269h2v1h-2zM306 269h2v1h-2zM310 269h2v1h-2zM314 269h2v1h-2zM318 269h2v1h-2zM322 269h2v1h-2zM326 269h2v1h-2zM330 269h2v1h-2zM334 269h2v1h-2zM338 269h2v1h-2zM342 269h2v1h-2zM346 269h2v1h-2zM350 269h2v1h-2zM354 269h2v1h-2zM358 269h2v1h-2zM362 269h2v1h-2zM366 269h2v1h-2zM370 269h2v1h-2zM374 269h2v1h-2zM378 269h2v1h-2zM382 269h2v1h-2zM386 269h2v1h-2zM390 269h2v1h-2zM394 269h2v1h-2zM398 269h2v1h-2zM402 269h2v1h-2zM406 269h2v1h-2zM410 269h2v1h-2zM414 269h2v1h-2zM418 269h2v1h-2zM422 269h2v1h-2zM426 269h2v1h-2zM430 269h2v1h-2zM434 269h2v1h-2zM438 269h2v1h-2zM442 269h2v1h-2zM446 269h2v1h-2zM450 269h2v1h-2zM454 269h2v1h-2zM458 269h2v1h-2zM462 269h2v1h-2zM466 269h2v1h-2zM470 269h2v1h-2zM474 269h2v1h-2zM477 269h3v1h-3zM482 269h2v1h-2zM486 269h2v1h-2zM490 269h2v1h-2zM494 269h2v1h-2zM498 269h2v1h-2zM502 269h2v1h-2zM506 269h2v1h-2zM510 269h2v1h-2zM514 269h2v1h-2zM518 269h2v1h-2zM522 269h2v1h-2zM526 269h2v1h-2zM530 269h2v1h-2zM534 269h2v1h-2zM538 269h2v1h-2zM542 269h2v1h-2zM546 269h2v1h-2zM549 269h3v1h-3zM554 269h2v1h-2zM558 269h2v1h-2zM562 269h2v1h-2zM566 269h2v1h-2zM570 269h2v1h-2zM574 269h2v1h-2zM578 269h2v1h-2zM582 269h2v1h-2zM586 269h2v1h-2zM590 269h2v1h-2zM594 269h2v1h-2zM598 269h2v1h-2zM602 269h2v1h-2zM606 269h2v1h-2zM610 269h2v1h-2zM614 269h2v1h-2zM618 269h2v1h-2zM621 269h3v1h-3zM626 269h2v1h-2zM630 269h2v1h-2zM634 269h2v1h-2zM638 269h2v1h-2zM642 269h2v1h-2zM646 269h2v1h-2zM650 269h2v1h-2zM654 269h2v1h-2zM658 269h2v1h-2zM662 269h2v1h-2zM666 269h2v1h-2zM670 269h2v1h-2zM674 269h2v1h-2zM678 269h2v1h-2zM682 269h2v1h-2zM686 269h2v1h-2zM690 269h2v1h-2zM693 269h3v1h-3zM698 269h2v1h-2zM702 269h2v1h-2zM706 269h2v1h-2zM710 269h2v1h-2zM714 269h2v1h-2zM718 269h2v1h-2zM722 269h2v1h-2zM726 269h2v1h-2zM730 269h2v1h-2zM734 269h2v1h-2zM738 269h2v1h-2zM742 269h2v1h-2zM746 269h2v1h-2zM750 269h2v1h-2zM754 269h2v1h-2zM758 269h2v1h-2zM762 269h2v1h-2zM190 272h1v1h-1zM262 272h1v1h-1zM334 272h1v1h-1zM406 272h1v1h-1zM477 272h1v1h-1zM549 272h1v1h-1zM621 272h1v1h-1zM693 272h1v1h-1zM190 273h1v1h-1zM262 273h1v1h-1zM334 273h1v1h-1zM406 273h1v1h-1zM477 273h1v1h-1zM549 273h1v1h-1zM621 273h1v1h-1zM693 273h1v1h-1zM190 276h1v1h-1zM262 276h1v1h-1zM334 276h1v1h-1zM406 276h1v1h-1zM477 276h1v1h-1zM549 276h1v1h-1zM621 276h1v1h-1zM693 276h1v1h-1zM190 277h1v1h-1zM262 277h1v1h-1zM334 277h1v1h-1zM406 277h1v1h-1zM477 277h1v1h-1zM549 277h1v1h-1zM621 277h1v1h-1zM693 277h1v1h-1zM190 280h1v1h-1zM262 280h1v1h-1zM334 280h1v1h-1zM406 280h1v1h-1zM477 280h1v1h-1zM549 280h1v1h-1zM621 280h1v1h-1zM693 280h1v1h-1zM190 281h1v1h-1zM262 281h1v1h-1zM334 281h1v1h-1zM406 281h1v1h-1zM477 281h1v1h-1zM549 281h1v1h-1zM621 281h1v1h-1zM693 281h1v1h-1zM190 284h1v1h-1zM262 284h1v1h-1zM334 284h1v1h-1zM406 284h1v1h-1zM477 284h1v1h-1zM549 284h1v1h-1zM621 284h1v1h-1zM693 284h1v1h-1zM190 285h1v1h-1zM262 285h1v1h-1zM334 285h1v1h-1zM406 285h1v1h-1zM477 285h1v1h-1zM549 285h1v1h-1zM621 285h1v1h-1zM693 285h1v1h-1zM190 288h1v1h-1zM262 288h1v1h-1zM334 288h1v1h-1zM406 288h1v1h-1zM477 288h1v1h-1zM549 288h1v1h-1zM621 288h1v1h-1zM693 288h1v1h-1zM190 289h1v1h-1zM262 289h1v1h-1zM334 289h1v1h-1zM406 289h1v1h-1zM477 289h1v1h-1zM549 289h1v1h-1zM621 289h1v1h-1zM693 289h1v1h-1zM190 292h1v1h-1zM262 292h1v1h-1zM334 292h1v1h-1zM406 292h1v1h-1zM477 292h1v1h-1zM549 292h1v1h-1zM621 292h1v1h-1zM693 292h1v1h-1zM190 293h1v1h-1zM262 293h1v1h-1zM334 293h1v1h-1zM406 293h1v1h-1zM477 293h1v1h-1zM549 293h1v1h-1zM621 293h1v1h-1zM693 293h1v1h-1zM190 296h1v1h-1zM262 296h1v1h-1zM334 296h1v1h-1zM406 296h1v1h-1zM477 296h1v1h-1zM549 296h1v1h-1zM621 296h1v1h-1zM693 296h1v1h-1zM190 297h1v1h-1zM262 297h1v1h-1zM334 297h1v1h-1zM406 297h1v1h-1zM477 297h1v1h-1zM549 297h1v1h-1zM621 297h1v1h-1zM693 297h1v1h-1zM190 300h1v1h-1zM262 300h1v1h-1zM334 300h1v1h-1zM406 300h1v1h-1zM477 300h1v1h-1zM549 300h1v1h-1zM621 300h1v1h-1zM693 300h1v1h-1zM190 301h1v1h-1zM262 301h1v1h-1zM334 301h1v1h-1zM406 301h1v1h-1zM477 301h1v1h-1zM549 301h1v1h-1zM621 301h1v1h-1zM693 301h1v1h-1zM190 304h1v1h-1zM262 304h1v1h-1zM334 304h1v1h-1zM406 304h1v1h-1zM477 304h1v1h-1zM549 304h1v1h-1zM621 304h1v1h-1zM693 304h1v1h-1zM190 305h1v1h-1zM262 305h1v1h-1zM334 305h1v1h-1zM406 305h1v1h-1zM477 305h1v1h-1zM549 305h1v1h-1zM621 305h1v1h-1zM693 305h1v1h-1zM190 308h1v1h-1zM262 308h1v1h-1zM334 308h1v1h-1zM406 308h1v1h-1zM477 308h1v1h-1zM549 308h1v1h-1zM621 308h1v1h-1zM693 308h1v1h-1zM190 309h1v1h-1zM262 309h1v1h-1zM334 309h1v1h-1zM406 309h1v1h-1zM477 309h1v1h-1zM549 309h1v1h-1zM621 309h1v1h-1zM693 309h1v1h-1zM190 312h1v1h-1zM262 312h1v1h-1zM334 312h1v1h-1zM406 312h1v1h-1zM477 312h1v1h-1zM549 312h1v1h-1zM621 312h1v1h-1zM693 312h1v1h-1zM190 313h1v1h-1zM262 313h1v1h-1zM334 313h1v1h-1zM406 313h1v1h-1zM477 313h1v1h-1zM549 313h1v1h-1zM621 313h1v1h-1zM693 313h1v1h-1zM118 314h2v1h-2zM122 314h2v1h-2zM126 314h2v1h-2zM130 314h2v1h-2zM134 314h2v1h-2zM138 314h2v1h-2zM142 314h2v1h-2zM146 314h2v1h-2zM150 314h2v1h-2zM154 314h2v1h-2zM158 314h2v1h-2zM162 314h2v1h-2zM166 314h2v1h-2zM170 314h2v1h-2zM174 314h2v1h-2zM178 314h2v1h-2zM182 314h2v1h-2zM186 314h2v1h-2zM190 314h2v1h-2zM194 314h2v1h-2zM198 314h2v1h-2zM202 314h2v1h-2zM206 314h2v1h-2zM210 314h2v1h-2zM214 314h2v1h-2zM218 314h2v1h-2zM222 314h2v1h-2zM226 314h2v1h-2zM230 314h2v1h-2zM234 314h2v1h-2zM238 314h2v1h-2zM242 314h2v1h-2zM246 314h2v1h-2zM250 314h2v1h-2zM254 314h2v1h-2zM258 314h2v1h-2zM262 314h2v1h-2zM266 314h2v1h-2zM270 314h2v1h-2zM274 314h2v1h-2zM278 314h2v1h-2zM282 314h2v1h-2zM286 314h2v1h-2zM290 314h2v1h-2zM294 314h2v1h-2zM298 314h2v1h-2zM302 314h2v1h-2zM306 314h2v1h-2zM310 314h2v1h-2zM314 314h2v1h-2zM318 314h2v1h-2zM322 314h2v1h-2zM326 314h2v1h-2zM330 314h2v1h-2zM334 314h2v1h-2zM338 314h2v1h-2zM342 314h2v1h-2zM346 314h2v1h-2zM350 314h2v1h-2zM354 314h2v1h-2zM358 314h2v1h-2zM362 314h2v1h-2zM366 314h2v1h-2zM370 314h2v1h-2zM374 314h2v1h-2zM378 314h2v1h-2zM382 314h2v1h-2zM386 314h2v1h-2zM390 314h2v1h-2zM394 314h2v1h-2zM398 314h2v1h-2zM402 314h2v1h-2zM406 314h2v1h-2zM410 314h2v1h-2zM414 314h2v1h-2zM418 314h2v1h-2zM422 314h2v1h-2zM426 314h2v1h-2zM430 314h2v1h-2zM434 314h2v1h-2zM438 314h2v1h-2zM442 314h2v1h-2zM446 314h2v1h-2zM450 314h2v1h-2zM454 314h2v1h-2zM458 314h2v1h-2zM462 314h2v1h-2zM466 314h2v1h-2zM470 314h2v1h-2zM474 314h2v1h-2zM478 314h2v1h-2zM482 314h2v1h-2zM486 314h2v1h-2zM490 314h2v1h-2zM494 314h2v1h-2zM498 314h2v1h-2zM502 314h2v1h-2zM506 314h2v1h-2zM510 314h2v1h-2zM514 314h2v1h-2zM518 314h2v1h-2zM522 314h2v1h-2zM526 314h2v1h-2zM530 314h2v1h-2zM534 314h2v1h-2zM538 314h2v1h-2zM542 314h2v1h-2zM546 314h2v1h-2zM550 314h2v1h-2zM554 314h2v1h-2zM558 314h2v1h-2zM562 314h2v1h-2zM566 314h2v1h-2zM570 314h2v1h-2zM574 314h2v1h-2zM578 314h2v1h-2zM582 314h2v1h-2zM586 314h2v1h-2zM590 314h2v1h-2zM594 314h2v1h-2zM598 314h2v1h-2zM602 314h2v1h-2zM606 314h2v1h-2zM610 314h2v1h-2zM614 314h2v1h-2zM618 314h2v1h-2zM622 314h2v1h-2zM626 314h2v1h-2zM630 314h2v1h-2zM634 314h2v1h-2zM638 314h2v1h-2zM642 314h2v1h-2zM646 314h2v1h-2zM650 314h2v1h-2zM654 314h2v1h-2zM658 314h2v1h-2zM662 314h2v1h-2zM666 314h2v1h-2zM670 314h2v1h-2zM674 314h2v1h-2zM678 314h2v1h-2zM682 314h2v1h-2zM686 314h2v1h-2zM690 314h2v1h-2zM694 314h2v1h-2zM698 314h2v1h-2zM702 314h2v1h-2zM706 314h2v1h-2zM710 314h2v1h-2zM714 314h2v1h-2zM718 314h2v1h-2zM722 314h2v1h-2zM726 314h2v1h-2zM730 314h2v1h-2zM734 314h2v1h-2zM738 314h2v1h-2zM742 314h2v1h-2zM746 314h2v1h-2zM750 314h2v1h-2zM754 314h2v1h-2zM758 314h2v1h-2zM762 314h2v1h-2zM190 316h1v1h-1zM262 316h1v1h-1zM334 316h1v1h-1zM406 316h1v1h-1zM477 316h1v1h-1zM549 316h1v1h-1zM621 316h1v1h-1zM693 316h1v1h-1zM190 317h1v1h-1zM262 317h1v1h-1zM334 317h1v1h-1zM406 317h1v1h-1zM477 317h1v1h-1zM549 317h1v1h-1zM621 317h1v1h-1zM693 317h1v1h-1zM190 320h1v1h-1zM262 320h1v1h-1zM334 320h1v1h-1zM406 320h1v1h-1zM477 320h1v1h-1zM549 320h1v1h-1zM621 320h1v1h-1zM693 320h1v1h-1zM190 321h1v1h-1zM262 321h1v1h-1zM334 321h1v1h-1zM406 321h1v1h-1zM477 321h1v1h-1zM549 321h1v1h-1zM621 321h1v1h-1zM693 321h1v1h-1zM190 324h1v1h-1zM262 324h1v1h-1zM334 324h1v1h-1zM406 324h1v1h-1zM477 324h1v1h-1zM549 324h1v1h-1zM621 324h1v1h-1zM693 324h1v1h-1zM190 325h1v1h-1zM262 325h1v1h-1zM334 325h1v1h-1zM406 325h1v1h-1zM477 325h1v1h-1zM549 325h1v1h-1zM621 325h1v1h-1zM693 325h1v1h-1zM190 328h1v1h-1zM262 328h1v1h-1zM334 328h1v1h-1zM406 328h1v1h-1zM477 328h1v1h-1zM549 328h1v1h-1zM621 328h1v1h-1zM693 328h1v1h-1zM190 329h1v1h-1zM262 329h1v1h-1zM334 329h1v1h-1zM406 329h1v1h-1zM477 329h1v1h-1zM549 329h1v1h-1zM621 329h1v1h-1zM693 329h1v1h-1zM190 332h1v1h-1zM262 332h1v1h-1zM334 332h1v1h-1zM406 332h1v1h-1zM477 332h1v1h-1zM549 332h1v1h-1zM621 332h1v1h-1zM693 332h1v1h-1zM190 333h1v1h-1zM262 333h1v1h-1zM334 333h1v1h-1zM406 333h1v1h-1zM477 333h1v1h-1zM549 333h1v1h-1zM621 333h1v1h-1zM693 333h1v1h-1zM190 336h1v1h-1zM262 336h1v1h-1zM334 336h1v1h-1zM406 336h1v1h-1zM477 336h1v1h-1zM549 336h1v1h-1zM621 336h1v1h-1zM693 336h1v1h-1zM190 337h1v1h-1zM262 337h1v1h-1zM334 337h1v1h-1zM406 337h1v1h-1zM477 337h1v1h-1zM549 337h1v1h-1zM621 337h1v1h-1zM693 337h1v1h-1zM190 340h1v1h-1zM262 340h1v1h-1zM334 340h1v1h-1zM406 340h1v1h-1zM477 340h1v1h-1zM549 340h1v1h-1zM621 340h1v1h-1zM693 340h1v1h-1zM190 341h1v1h-1zM262 341h1v1h-1zM334 341h1v1h-1zM406 341h1v1h-1zM477 341h1v1h-1zM549 341h1v1h-1zM621 341h1v1h-1zM693 341h1v1h-1zM190 344h1v1h-1zM262 344h1v1h-1zM334 344h1v1h-1zM406 344h1v1h-1zM477 344h1v1h-1zM549 344h1v1h-1zM621 344h1v1h-1zM693 344h1v1h-1zM190 345h1v1h-1zM262 345h1v1h-1zM334 345h1v1h-1zM406 345h1v1h-1zM477 345h1v1h-1zM549 345h1v1h-1zM621 345h1v1h-1zM693 345h1v1h-1zM190 348h1v1h-1zM262 348h1v1h-1zM334 348h1v1h-1zM406 348h1v1h-1zM477 348h1v1h-1zM549 348h1v1h-1zM621 348h1v1h-1zM693 348h1v1h-1zM190 349h1v1h-1zM262 349h1v1h-1zM334 349h1v1h-1zM406 349h1v1h-1zM477 349h1v1h-1zM549 349h1v1h-1zM621 349h1v1h-1zM693 349h1v1h-1zM190 352h1v1h-1zM262 352h1v1h-1zM334 352h1v1h-1zM406 352h1v1h-1zM477 352h1v1h-1zM549 352h1v1h-1zM621 352h1v1h-1zM693 352h1v1h-1zM190 353h1v1h-1zM262 353h1v1h-1zM334 353h1v1h-1zM406 353h1v1h-1zM477 353h1v1h-1zM549 353h1v1h-1zM621 353h1v1h-1zM693 353h1v1h-1zM190 356h1v1h-1zM262 356h1v1h-1zM334 356h1v1h-1zM406 356h1v1h-1zM477 356h1v1h-1zM549 356h1v1h-1zM621 356h1v1h-1zM693 356h1v1h-1zM190 357h1v1h-1zM262 357h1v1h-1zM334 357h1v1h-1zM406 357h1v1h-1zM477 357h1v1h-1zM549 357h1v1h-1zM621 357h1v1h-1zM693 357h1v1h-1zM118 359h2v1h-2zM122 359h2v1h-2zM126 359h2v1h-2zM130 359h2v1h-2zM134 359h2v1h-2zM138 359h2v1h-2zM142 359h2v1h-2zM146 359h2v1h-2zM150 359h2v1h-2zM154 359h2v1h-2zM158 359h2v1h-2zM162 359h2v1h-2zM166 359h2v1h-2zM170 359h2v1h-2zM174 359h2v1h-2zM178 359h2v1h-2zM182 359h2v1h-2zM186 359h2v1h-2zM190 359h2v1h-2zM194 359h2v1h-2zM198 359h2v1h-2zM202 359h2v1h-2zM206 359h2v1h-2zM210 359h2v1h-2zM214 359h2v1h-2zM218 359h2v1h-2zM222 359h2v1h-2zM226 359h2v1h-2zM230 359h2v1h-2zM234 359h2v1h-2zM238 359h2v1h-2zM242 359h2v1h-2zM246 359h2v1h-2zM250 359h2v1h-2zM254 359h2v1h-2zM258 359h2v1h-2zM262 359h2v1h-2zM266 359h2v1h-2zM270 359h2v1h-2zM274 359h2v1h-2zM278 359h2v1h-2zM282 359h2v1h-2zM286 359h2v1h-2zM290 359h2v1h-2zM294 359h2v1h-2zM298 359h2v1h-2zM302 359h2v1h-2zM306 359h2v1h-2zM310 359h2v1h-2zM314 359h2v1h-2zM318 359h2v1h-2zM322 359h2v1h-2zM326 359h2v1h-2zM330 359h2v1h-2zM334 359h2v1h-2zM338 359h2v1h-2zM342 359h2v1h-2zM346 359h2v1h-2zM350 359h2v1h-2zM354 359h2v1h-2zM358 359h2v1h-2zM362 359h2v1h-2zM366 359h2v1h-2zM370 359h2v1h-2zM374 359h2v1h-2zM378 359h2v1h-2zM382 359h2v1h-2zM386 359h2v1h-2zM390 359h2v1h-2zM394 359h2v1h-2zM398 359h2v1h-2zM402 359h2v1h-2zM406 359h2v1h-2zM410 359h2v1h-2zM414 359h2v1h-2zM418 359h2v1h-2zM422 359h2v1h-2zM426 359h2v1h-2zM430 359h2v1h-2zM434 359h2v1h-2zM438 359h2v1h-2zM442 359h2v1h-2zM446 359h2v1h-2zM450 359h2v1h-2zM454 359h2v1h-2zM458 359h2v1h-2zM462 359h2v1h-2zM466 359h2v1h-2zM470 359h2v1h-2zM474 359h2v1h-2zM478 359h2v1h-2zM482 359h2v1h-2zM486 359h2v1h-2zM490 359h2v1h-2zM494 359h2v1h-2zM498 359h2v1h-2zM502 359h2v1h-2zM506 359h2v1h-2zM510 359h2v1h-2zM514 359h2v1h-2zM518 359h2v1h-2zM522 359h2v1h-2zM526 359h2v1h-2zM530 359h2v1h-2zM534 359h2v1h-2zM538 359h2v1h-2zM542 359h2v1h-2zM546 359h2v1h-2zM550 359h2v1h-2zM554 359h2v1h-2zM558 359h2v1h-2zM562 359h2v1h-2zM566 359h2v1h-2zM570 359h2v1h-2zM574 359h2v1h-2zM578 359h2v1h-2zM582 359h2v1h-2zM586 359h2v1h-2zM590 359h2v1h-2zM594 359h2v1h-2zM598 359h2v1h-2zM602 359h2v1h-2zM606 359h2v1h-2zM610 359h2v1h-2zM614 359h2v1h-2zM618 359h2v1h-2zM622 359h2v1h-2zM626 359h2v1h-2zM630 359h2v1h-2zM634 359h2v1h-2zM638 359h2v1h-2zM642 359h2v1h-2zM646 359h2v1h-2zM650 359h2v1h-2zM654 359h2v1h-2zM658 359h2v1h-2zM662 359h2v1h-2zM666 359h2v1h-2zM670 359h2v1h-2zM674 359h2v1h-2zM678 359h2v1h-2zM682 359h2v1h-2zM686 359h2v1h-2zM690 359h2v1h-2zM694 359h2v1h-2zM698 359h2v1h-2zM702 359h2v1h-2zM706 359h2v1h-2zM710 359h2v1h-2zM714 359h2v1h-2zM718 359h2v1h-2zM722 359h2v1h-2zM726 359h2v1h-2zM730 359h2v1h-2zM734 359h2v1h-2zM738 359h2v1h-2zM742 359h2v1h-2zM746 359h2v1h-2zM750 359h2v1h-2zM754 359h2v1h-2zM758 359h2v1h-2zM762 359h2v1h-2zM190 360h1v1h-1zM262 360h1v1h-1zM334 360h1v1h-1zM406 360h1v1h-1zM477 360h1v1h-1zM549 360h1v1h-1zM621 360h1v1h-1zM693 360h1v1h-1zM190 361h1v1h-1zM262 361h1v1h-1zM334 361h1v1h-1zM406 361h1v1h-1zM477 361h1v1h-1zM549 361h1v1h-1zM621 361h1v1h-1zM693 361h1v1h-1zM190 364h1v1h-1zM262 364h1v1h-1zM334 364h1v1h-1zM406 364h1v1h-1zM477 364h1v1h-1zM549 364h1v1h-1zM621 364h1v1h-1zM693 364h1v1h-1zM190 365h1v1h-1zM262 365h1v1h-1zM334 365h1v1h-1zM406 365h1v1h-1zM477 365h1v1h-1zM549 365h1v1h-1zM621 365h1v1h-1zM693 365h1v1h-1zM190 368h1v1h-1zM262 368h1v1h-1zM334 368h1v1h-1zM406 368h1v1h-1zM477 368h1v1h-1zM549 368h1v1h-1zM621 368h1v1h-1zM693 368h1v1h-1zM190 369h1v1h-1zM262 369h1v1h-1zM334 369h1v1h-1zM406 369h1v1h-1zM477 369h1v1h-1zM549 369h1v1h-1zM621 369h1v1h-1zM693 369h1v1h-1zM190 372h1v1h-1zM262 372h1v1h-1zM334 372h1v1h-1zM406 372h1v1h-1zM477 372h1v1h-1zM549 372h1v1h-1zM621 372h1v1h-1zM693 372h1v1h-1zM190 373h1v1h-1zM262 373h1v1h-1zM334 373h1v1h-1zM406 373h1v1h-1zM477 373h1v1h-1zM549 373h1v1h-1zM621 373h1v1h-1zM693 373h1v1h-1zM190 376h1v1h-1zM262 376h1v1h-1zM334 376h1v1h-1zM406 376h1v1h-1zM477 376h1v1h-1zM549 376h1v1h-1zM621 376h1v1h-1zM693 376h1v1h-1zM190 377h1v1h-1zM262 377h1v1h-1zM334 377h1v1h-1zM406 377h1v1h-1zM477 377h1v1h-1zM549 377h1v1h-1zM621 377h1v1h-1zM693 377h1v1h-1zM190 380h1v1h-1zM262 380h1v1h-1zM334 380h1v1h-1zM406 380h1v1h-1zM477 380h1v1h-1zM549 380h1v1h-1zM621 380h1v1h-1zM693 380h1v1h-1zM190 381h1v1h-1zM262 381h1v1h-1zM334 381h1v1h-1zM406 381h1v1h-1zM477 381h1v1h-1zM549 381h1v1h-1zM621 381h1v1h-1zM693 381h1v1h-1zM190 384h1v1h-1zM262 384h1v1h-1zM334 384h1v1h-1zM406 384h1v1h-1zM477 384h1v1h-1zM549 384h1v1h-1zM621 384h1v1h-1zM693 384h1v1h-1zM190 385h1v1h-1zM262 385h1v1h-1zM334 385h1v1h-1zM406 385h1v1h-1zM477 385h1v1h-1zM549 385h1v1h-1zM621 385h1v1h-1zM693 385h1v1h-1zM190 388h1v1h-1zM262 388h1v1h-1zM334 388h1v1h-1zM406 388h1v1h-1zM477 388h1v1h-1zM549 388h1v1h-1zM621 388h1v1h-1zM693 388h1v1h-1zM190 389h1v1h-1zM262 389h1v1h-1zM334 389h1v1h-1zM406 389h1v1h-1zM477 389h1v1h-1zM549 389h1v1h-1zM621 389h1v1h-1zM693 389h1v1h-1zM190 392h1v1h-1zM262 392h1v1h-1zM334 392h1v1h-1zM406 392h1v1h-1zM477 392h1v1h-1zM549 392h1v1h-1zM621 392h1v1h-1zM693 392h1v1h-1zM190 393h1v1h-1zM262 393h1v1h-1zM334 393h1v1h-1zM406 393h1v1h-1zM477 393h1v1h-1zM549 393h1v1h-1zM621 393h1v1h-1zM693 393h1v1h-1zM190 396h1v1h-1zM262 396h1v1h-1zM334 396h1v1h-1zM406 396h1v1h-1zM477 396h1v1h-1zM549 396h1v1h-1zM621 396h1v1h-1zM693 396h1v1h-1zM190 397h1v1h-1zM262 397h1v1h-1zM334 397h1v1h-1zM406 397h1v1h-1zM477 397h1v1h-1zM549 397h1v1h-1zM621 397h1v1h-1zM693 397h1v1h-1zM190 400h1v1h-1zM262 400h1v1h-1zM334 400h1v1h-1zM406 400h1v1h-1zM477 400h1v1h-1zM549 400h1v1h-1zM621 400h1v1h-1zM693 400h1v1h-1zM190 401h1v1h-1zM262 401h1v1h-1zM334 401h1v1h-1zM406 401h1v1h-1zM477 401h1v1h-1zM549 401h1v1h-1zM621 401h1v1h-1zM693 401h1v1h-1zM118 404h2v1h-2zM122 404h2v1h-2zM126 404h2v1h-2zM130 404h2v1h-2zM134 404h2v1h-2zM138 404h2v1h-2zM142 404h2v1h-2zM146 404h2v1h-2zM150 404h2v1h-2zM154 404h2v1h-2zM158 404h2v1h-2zM162 404h2v1h-2zM166 404h2v1h-2zM170 404h2v1h-2zM174 404h2v1h-2zM178 404h2v1h-2zM182 404h2v1h-2zM186 404h2v1h-2zM190 404h2v1h-2zM194 404h2v1h-2zM198 404h2v1h-2zM202 404h2v1h-2zM206 404h2v1h-2zM210 404h2v1h-2zM214 404h2v1h-2zM218 404h2v1h-2zM222 404h2v1h-2zM226 404h2v1h-2zM230 404h2v1h-2zM234 404h2v1h-2zM238 404h2v1h-2zM242 404h2v1h-2zM246 404h2v1h-2zM250 404h2v1h-2zM254 404h2v1h-2zM258 404h2v1h-2zM262 404h2v1h-2zM266 404h2v1h-2zM270 404h2v1h-2zM274 404h2v1h-2zM278 404h2v1h-2zM282 404h2v1h-2zM286 404h2v1h-2zM290 404h2v1h-2zM294 404h2v1h-2zM298 404h2v1h-2zM302 404h2v1h-2zM306 404h2v1h-2zM310 404h2v1h-2zM314 404h2v1h-2zM318 404h2v1h-2zM322 404h2v1h-2zM326 404h2v1h-2zM330 404h2v1h-2zM334 404h2v1h-2zM338 404h2v1h-2zM342 404h2v1h-2zM346 404h2v1h-2zM350 404h2v1h-2zM354 404h2v1h-2zM358 404h2v1h-2zM362 404h2v1h-2zM366 404h2v1h-2zM370 404h2v1h-2zM374 404h2v1h-2zM378 404h2v1h-2zM382 404h2v1h-2zM386 404h2v1h-2zM390 404h2v1h-2zM394 404h2v1h-2zM398 404h2v1h-2zM402 404h2v1h-2zM406 404h2v1h-2zM410 404h2v1h-2zM414 404h2v1h-2zM418 404h2v1h-2zM422 404h2v1h-2zM426 404h2v1h-2zM430 404h2v1h-2zM434 404h2v1h-2zM438 404h2v1h-2zM442 404h2v1h-2zM446 404h2v1h-2zM450 404h2v1h-2zM454 404h2v1h-2zM458 404h2v1h-2zM462 404h2v1h-2zM466 404h2v1h-2zM470 404h2v1h-2zM474 404h2v1h-2zM477 404h3v1h-3zM482 404h2v1h-2zM486 404h2v1h-2zM490 404h2v1h-2zM494 404h2v1h-2zM498 404h2v1h-2zM502 404h2v1h-2zM506 404h2v1h-2zM510 404h2v1h-2zM514 404h2v1h-2zM518 404h2v1h-2zM522 404h2v1h-2zM526 404h2v1h-2zM530 404h2v1h-2zM534 404h2v1h-2zM538 404h2v1h-2zM542 404h2v1h-2zM546 404h2v1h-2zM549 404h3v1h-3zM554 404h2v1h-2zM558 404h2v1h-2zM562 404h2v1h-2zM566 404h2v1h-2zM570 404h2v1h-2zM574 404h2v1h-2zM578 404h2v1h-2zM582 404h2v1h-2zM586 404h2v1h-2zM590 404h2v1h-2zM594 404h2v1h-2zM598 404h2v1h-2zM602 404h2v1h-2zM606 404h2v1h-2zM610 404h2v1h-2zM614 404h2v1h-2zM618 404h2v1h-2zM621 404h3v1h-3zM626 404h2v1h-2zM630 404h2v1h-2zM634 404h2v1h-2zM638 404h2v1h-2zM642 404h2v1h-2zM646 404h2v1h-2zM650 404h2v1h-2zM654 404h2v1h-2zM658 404h2v1h-2zM662 404h2v1h-2zM666 404h2v1h-2zM670 404h2v1h-2zM674 404h2v1h-2zM678 404h2v1h-2zM682 404h2v1h-2zM686 404h2v1h-2zM690 404h2v1h-2zM693 404h3v1h-3zM698 404h2v1h-2zM702 404h2v1h-2zM706 404h2v1h-2zM710 404h2v1h-2zM714 404h2v1h-2zM718 404h2v1h-2zM722 404h2v1h-2zM726 404h2v1h-2zM730 404h2v1h-2zM734 404h2v1h-2zM738 404h2v1h-2zM742 404h2v1h-2zM746 404h2v1h-2zM750 404h2v1h-2zM754 404h2v1h-2zM758 404h2v1h-2zM762 404h2v1h-2zM190 405h1v1h-1zM262 405h1v1h-1zM334 405h1v1h-1zM406 405h1v1h-1zM477 405h1v1h-1zM549 405h1v1h-1zM621 405h1v1h-1zM693 405h1v1h-1zM190 408h1v1h-1zM262 408h1v1h-1zM334 408h1v1h-1zM406 408h1v1h-1zM477 408h1v1h-1zM549 408h1v1h-1zM621 408h1v1h-1zM693 408h1v1h-1zM190 409h1v1h-1zM262 409h1v1h-1zM334 409h1v1h-1zM406 409h1v1h-1zM477 409h1v1h-1zM549 409h1v1h-1zM621 409h1v1h-1zM693 409h1v1h-1zM190 412h1v1h-1zM262 412h1v1h-1zM334 412h1v1h-1zM406 412h1v1h-1zM477 412h1v1h-1zM549 412h1v1h-1zM621 412h1v1h-1zM693 412h1v1h-1zM190 413h1v1h-1zM262 413h1v1h-1zM334 413h1v1h-1zM406 413h1v1h-1zM477 413h1v1h-1zM549 413h1v1h-1zM621 413h1v1h-1zM693 413h1v1h-1zM190 416h1v1h-1zM262 416h1v1h-1zM334 416h1v1h-1zM406 416h1v1h-1zM477 416h1v1h-1zM549 416h1v1h-1zM621 416h1v1h-1zM693 416h1v1h-1zM190 417h1v1h-1zM262 417h1v1h-1zM334 417h1v1h-1zM406 417h1v1h-1zM477 417h1v1h-1zM549 417h1v1h-1zM621 417h1v1h-1zM693 417h1v1h-1zM190 420h1v1h-1zM262 420h1v1h-1zM334 420h1v1h-1zM406 420h1v1h-1zM477 420h1v1h-1zM549 420h1v1h-1zM621 420h1v1h-1zM693 420h1v1h-1zM190 421h1v1h-1zM262 421h1v1h-1zM334 421h1v1h-1zM406 421h1v1h-1zM477 421h1v1h-1zM549 421h1v1h-1zM621 421h1v1h-1zM693 421h1v1h-1zM190 424h1v1h-1zM262 424h1v1h-1zM334 424h1v1h-1zM406 424h1v1h-1zM477 424h1v1h-1zM549 424h1v1h-1zM621 424h1v1h-1zM693 424h1v1h-1zM190 425h1v1h-1zM262 425h1v1h-1zM334 425h1v1h-1zM406 425h1v1h-1zM477 425h1v1h-1zM549 425h1v1h-1zM621 425h1v1h-1zM693 425h1v1h-1zM190 428h1v1h-1zM262 428h1v1h-1zM334 428h1v1h-1zM406 428h1v1h-1zM477 428h1v1h-1zM549 428h1v1h-1zM621 428h1v1h-1zM693 428h1v1h-1zM190 429h1v1h-1zM262 429h1v1h-1zM334 429h1v1h-1zM406 429h1v1h-1zM477 429h1v1h-1zM549 429h1v1h-1zM621 429h1v1h-1zM693 429h1v1h-1zM190 432h1v1h-1zM262 432h1v1h-1zM334 432h1v1h-1zM406 432h1v1h-1zM477 432h1v1h-1zM549 432h1v1h-1zM621 432h1v1h-1zM693 432h1v1h-1zM190 433h1v1h-1zM262 433h1v1h-1zM334 433h1v1h-1zM406 433h1v1h-1zM477 433h1v1h-1zM549 433h1v1h-1zM621 433h1v1h-1zM693 433h1v1h-1zM190 436h1v1h-1zM262 436h1v1h-1zM334 436h1v1h-1zM406 436h1v1h-1zM477 436h1v1h-1zM549 436h1v1h-1zM621 436h1v1h-1zM693 436h1v1h-1zM190 437h1v1h-1zM262 437h1v1h-1zM334 437h1v1h-1zM406 437h1v1h-1zM477 437h1v1h-1zM549 437h1v1h-1zM621 437h1v1h-1zM693 437h1v1h-1zM190 440h1v1h-1zM262 440h1v1h-1zM334 440h1v1h-1zM406 440h1v1h-1zM477 440h1v1h-1zM549 440h1v1h-1zM621 440h1v1h-1zM693 440h1v1h-1zM190 441h1v1h-1zM262 441h1v1h-1zM334 441h1v1h-1zM406 441h1v1h-1zM477 441h1v1h-1zM549 441h1v1h-1zM621 441h1v1h-1zM693 441h1v1h-1zM190 444h1v1h-1zM262 444h1v1h-1zM334 444h1v1h-1zM406 444h1v1h-1zM477 444h1v1h-1zM549 444h1v1h-1zM621 444h1v1h-1zM693 444h1v1h-1zM190 445h1v1h-1zM262 445h1v1h-1zM334 445h1v1h-1zM406 445h1v1h-1zM477 445h1v1h-1zM549 445h1v1h-1zM621 445h1v1h-1zM693 445h1v1h-1zM190 448h1v1h-1zM262 448h1v1h-1zM334 448h1v1h-1zM406 448h1v1h-1zM477 448h1v1h-1zM549 448h1v1h-1zM621 448h1v1h-1zM693 448h1v1h-1zM190 449h1v1h-1zM262 449h1v1h-1zM334 449h1v1h-1zM406 449h1v1h-1zM477 449h1v1h-1zM549 449h1v1h-1zM621 449h1v1h-1zM693 449h1v1h-1z"/>
<path fill="#000" d="M118 45h5v1h-5zM190 45h1v1h-1zM262 45h1v1h-1zM334 45h1v1h-1zM406 45h1v1h-1zM477 45h1v1h-1zM549 45h1v1h-1zM621 45h1v1h-1zM693 45h1v1h-1zM761 45h5v1h-5zM118 46h1v1h-1zM190 46h1v1h-1zM262 46h1v1h-1zM334 46h1v1h-1zM406 46h1v1h-1zM477 46h1v1h-1zM549 46h1v1h-1zM621 46h1v1h-1zM693 46h1v1h-1zM765 46h1v1h-1zM118 47h1v1h-1zM190 47h1v1h-1zM262 47h1v1h-1zM334 47h1v1h-1zM406 47h1v1h-1zM477 47h1v1h-1zM549 47h1v1h-1zM621 47h1v1h-1zM693 47h1v1h-1zM765 47h1v1h-1zM118 48h1v1h-1zM190 48h1v1h-1zM262 48h1v1h-1zM334 48h1v1h-1zM406 48h1v1h-1zM477 48h1v1h-1zM549 48h1v1h-1zM621 48h1v1h-1zM693 48h1v1h-1zM765 48h1v1h-1zM118 49h1v1h-1zM190 49h1v1h-1zM262 49h1v1h-1zM334 49h1v1h-1zM406 49h1v1h-1zM477 49h1v1h-1zM549 49h1v1h-1zM621 49h1v1h-1zM693 49h1v1h-1zM765 49h1v1h-1zM118 90h5v1h-5zM761 90h5v1h-5zM118 135h5v1h-5zM761 135h5v1h-5zM118 180h5v1h-5zM761 180h5v1h-5zM118 225h5v1h-5zM761 225h5v1h-5zM118 269h5v1h-5zM761 269h5v1h-5zM118 314h5v1h-5zM761 314h5v1h-5zM118 359h5v1h-5zM761 359h5v1h-5zM118 404h5v1h-5zM761 404h5v1h-5zM118 445h1v1h-1zM190 445h1v1h-1zM262 445h1v1h-1zM334 445h1v1h-1zM406 445h1v1h-1zM477 445h1v1h-1zM549 445h1v1h-1zM621 445h1v1h-1zM693 445h1v1h-1zM765 445h1v1h-1zM118 446h1v1h-1zM190 446h1v1h-1zM262 446h1v1h-1zM334 446h1v1h-1zM406 446h1v1h-1zM477 446h1v1h-1zM549 446h1v1h-1zM621 446h1v1h-1zM693 446h1v1h-1zM765 446h1v1h-1zM118 447h1v1h-1zM190 447h1v1h-1zM262 447h1v1h-1zM334 447h1v1h-1zM406 447h1v1h-1zM477 447h1v1h-1zM549 447h1v1h-1zM621 447h1v1h-1zM693 447h1v1h-1zM765 447h1v1h-1zM118 448h1v1h-1zM190 448h1v1h-1zM262 448h1v1h-1zM334 448h1v1h-1zM406 448h1v1h-1zM477 448h1v1h-1zM549 448h1v1h-1zM621 448h1v1h-1zM693 448h1v1h-1zM765 448h1v1h-1zM118 449h5v1h-5zM190 449h1v1h-1zM262 449h1v1h-1zM334 449h1v1h-1zM406 449h1v1h-1zM477 449h1v1h-1zM549 449h1v1h-1zM621 449h1v1h-1zM693 449h1v1h-1zM761 449h5v1h-5z"/>
<path fill="#00a800" d="M728 43h2v1h-2zM728 44h2v1h-2zM728 45h2v1h-2zM725 46h8v1h-8zM725 47h8v1h-8zM727 48h5v1h-5zM727 49h6v1h-6zM727 50h3v1h-3zM731 50h3v1h-3zM727 51h2v1h-2zM732 51h3v1h-3zM726 52h3v1h-3zM733 52h4v1h-4zM245 53h2v1h-2zM726 53h2v1h-2zM734 53h4v1h-4zM245 54h2v1h-2zM726 54h2v1h-2zM736 54h3v1h-3zM245 55h2v1h-2zM725 55h3v1h-3zM737 55h3v1h-3zM225 56h42v1h-42zM725 56h2v1h-2zM738 56h3v1h-3zM225 57h42v1h-42zM725 57h2v1h-2zM739 57h3v1h-3zM245 58h2v1h-2zM724 58h3v1h-3zM740 58h3v1h-3zM245 59h2v1h-2zM724 59h2v1h-2zM741 59h3v1h-3zM245 60h2v1h-2zM724 60h2v1h-2zM742 60h3v1h-3zM724 61h2v1h-2zM743 61h3v1h-3zM723 62h3v1h-3zM744 62h3v1h-3zM723 63h2v1h-2zM745 63h4v1h-4zM723 64h2v1h-2zM746 64h4v1h-4zM722 65h3v1h-3zM748 65h3v1h-3zM722 66h2v1h-2zM749 66h3v1h-3zM722 67h2v1h-2zM750 67h3v1h-3zM721 68h3v1h-3zM751 68h3v1h-3zM721 69h2v1h-2zM752 69h3v1h-3zM721 70h2v1h-2zM753 70h3v1h-3zM721 71h2v1h-2zM754 71h3v1h-3zM720 72h3v1h-3zM755 72h3v1h-3zM720 73h2v1h-2zM756 73h3v1h-3zM720 74h2v1h-2zM757 74h4v1h-4zM719 75h3v1h-3zM758 75h4v1h-4zM719 76h2v1h-2zM760 76h3v1h-3zM764 76h2v1h-2zM719 77h2v1h-2zM761 77h5v1h-5zM718 78h3v1h-3zM762 78h4v1h-4zM718 79h2v1h-2zM761 79h8v1h-8zM718 80h2v1h-2zM761 80h8v1h-8zM718 81h2v1h-2zM764 81h2v1h-2zM717 82h3v1h-3zM764 82h2v1h-2zM717 83h2v1h-2zM764 83h2v1h-2zM717 84h2v1h-2zM716 85h3v1h-3zM716 86h2v1h-2zM716 87h2v1h-2zM716 88h2v1h-2zM715 89h3v1h-3zM715 90h2v1h-2zM715 91h2v1h-2zM714 92h3v1h-3zM714 93h2v1h-2zM714 94h2v1h-2zM713 95h3v1h-3zM713 96h2v1h-2zM713 97h2v1h-2zM713 98h2v1h-2zM712 99h3v1h-3zM712 100h2v1h-2zM712 101h2v1h-2zM711 102h3v1h-3zM711 103h2v1h-2zM711 104h2v1h-2zM710 105h3v1h-3zM710 106h2v1h-2zM710 107h2v1h-2zM710 108h2v1h-2zM709 109h3v1h-3zM709 110h2v1h-2zM709 111h2v1h-2zM708 112h3v1h-3zM708 113h2v1h-2zM708 114h2v1h-2zM707 115h3v1h-3zM707 116h2v1h-2zM707 117h2v1h-2zM707 118h2v1h-2zM706 119h3v1h-3zM706 120h2v1h-2zM706 121h2v1h-2zM705 122h3v1h-3zM705 123h2v1h-2zM705 124h2v1h-2zM704 125h3v1h-3zM704 126h2v1h-2zM704 127h2v1h-2zM704 128h2v1h-2zM703 129h3v1h-3zM703 130h2v1h-2zM703 131h2v1h-2zM702 132h3v1h-3zM702 133h2v1h-2zM702 134h2v1h-2zM702 135h2v1h-2zM701 136h3v1h-3zM701 137h2v1h-2zM701 138h2v1h-2zM700 139h3v1h-3zM700 140h2v1h-2zM700 141h2v1h-2zM699 142h3v1h-3zM699 143h2v1h-2zM699 144h2v1h-2zM699 145h2v1h-2zM698 146h3v1h-3zM698 147h2v1h-2zM698 148h2v1h-2zM697 149h3v1h-3zM697 150h2v1h-2zM697 151h2v1h-2zM696 152h3v1h-3zM696 153h2v1h-2zM696 154h2v1h-2zM696 155h2v1h-2zM695 156h3v1h-3zM695 157h2v1h-2zM695 158h2v1h-2zM694 159h3v1h-3zM694 160h2v1h-2zM694 161h2v1h-2zM693 162h3v1h-3zM693 163h2v1h-2zM692 164h3v1h-3zM692 165h3v1h-3zM692 166h3v1h-3zM689 167h8v1h-8zM689 168h8v1h-8zM687 169h7v1h-7zM685 170h5v1h-5zM692 170h2v1h-2zM683 171h5v1h-5zM692 171h2v1h-2zM681 172h5v1h-5zM679 173h5v1h-5zM677 174h5v1h-5zM674 175h6v1h-6zM672 176h6v1h-6zM670 177h5v1h-5zM668 178h5v1h-5zM666 179h5v1h-5zM664 180h5v1h-5zM584 181h2v1h-2zM656 181h2v1h-2zM662 181h5v1h-5zM584 182h2v1h-2zM656 182h2v1h-2zM660 182h5v1h-5zM584 183h2v1h-2zM656 183h7v1h-7zM581 184h8v1h-8zM653 184h8v1h-8zM581 185h11v1h-11zM650 185h11v1h-11zM580 186h6v1h-6zM587 186h10v1h-10zM645 186h10v1h-10zM656 186h2v1h-2zM578 187h5v1h-5zM584 187h2v1h-2zM591 187h10v1h-10zM641 187h10v1h-10zM656 187h2v1h-2zM576 188h5v1h-5zM584 188h2v1h-2zM596 188h10v1h-10zM636 188h10v1h-10zM656 188h2v1h-2zM574 189h5v1h-5zM600 189h10v1h-10zM620 189h2v1h-2zM632 189h10v1h-10zM572 190h5v1h-5zM605 190h10v1h-10zM620 190h2v1h-2zM627 190h10v1h-10zM512 191h2v1h-2zM570 191h5v1h-5zM609 191h10v1h-10zM620 191h2v1h-2zM623 191h10v1h-10zM512 192h2v1h-2zM568 192h5v1h-5zM614 192h14v1h-14zM512 193h2v1h-2zM566 193h5v1h-5zM617 193h8v1h-8zM509 194h8v1h-8zM565 194h4v1h-4zM620 194h2v1h-2zM509 195h10v1h-10zM563 195h4v1h-4zM620 195h2v1h-2zM510 196h13v1h-13zM561 196h5v1h-5zM620 196h2v1h-2zM509 197h5v1h-5zM518 197h9v1h-9zM559 197h5v1h-5zM508 198h3v1h-3zM512 198h2v1h-2zM522 198h9v1h-9zM557 198h5v1h-5zM507 199h3v1h-3zM526 199h9v1h-9zM555 199h5v1h-5zM506 200h3v1h-3zM530 200h9v1h-9zM548 200h2v1h-2zM553 200h5v1h-5zM506 201h2v1h-2zM534 201h9v1h-9zM548 201h2v1h-2zM551 201h5v1h-5zM505 202h3v1h-3zM538 202h9v1h-9zM548 202h6v1h-6zM504 203h3v1h-3zM542 203h11v1h-11zM503 204h3v1h-3zM545 204h8v1h-8zM502 205h3v1h-3zM548 205h2v1h-2zM501 206h3v1h-3zM548 206h2v1h-2zM500 207h3v1h-3zM548 207h2v1h-2zM499 208h3v1h-3zM498 209h3v1h-3zM497 210h3v1h-3zM496 211h3v1h-3zM495 212h3v1h-3zM494 213h3v1h-3zM494 214h2v1h-2zM493 215h3v1h-3zM492 216h3v1h-3zM491 217h3v1h-3zM490 218h3v1h-3zM489 219h3v1h-3zM488 220h3v1h-3zM487 221h3v1h-3zM486 222h3v1h-3zM485 223h3v1h-3zM484 224h3v1h-3zM483 225h3v1h-3zM482 226h3v1h-3zM482 227h2v1h-2zM481 228h3v1h-3zM480 229h3v1h-3zM476 230h2v1h-2zM479 230h3v1h-3zM476 231h5v1h-5zM405 232h2v1h-2zM476 232h4v1h-4zM405 233h2v1h-2zM472 233h9v1h-9zM405 234h2v1h-2zM441 234h2v1h-2zM463 234h18v1h-18zM402 235h13v1h-13zM441 235h2v1h-2zM455 235h18v1h-18zM476 235h2v1h-2zM402 236h31v1h-31zM441 236h2v1h-2zM446 236h18v1h-18zM476 236h2v1h-2zM404 237h3v1h-3zM414 237h42v1h-42zM476 237h2v1h-2zM403 238h4v1h-4zM432 238h15v1h-15zM403 239h4v1h-4zM441 239h2v1h-2zM402 240h3v1h-3zM441 240h2v1h-2zM402 241h2v1h-2zM441 241h2v1h-2zM401 242h3v1h-3zM401 243h2v1h-2zM400 244h3v1h-3zM400 245h2v1h-2zM399 246h3v1h-3zM399 247h2v1h-2zM398 248h3v1h-3zM398 249h2v1h-2zM397 250h3v1h-3zM397 251h2v1h-2zM396 252h3v1h-3zM395 253h3v1h-3zM395 254h2v1h-2zM394 255h3v1h-3zM394 256h2v1h-2zM393 257h3v1h-3zM393 258h2v1h-2zM392 259h3v1h-3zM392 260h2v1h-2zM391 261h3v1h-3zM391 262h2v1h-2zM390 263h3v1h-3zM390 264h2v1h-2zM389 265h3v1h-3zM389 266h2v1h-2zM388 267h3v1h-3zM388 268h2v1h-2zM387 269h3v1h-3zM386 270h3v1h-3zM386 271h2v1h-2zM385 272h3v1h-3zM385 273h2v1h-2zM384 274h3v1h-3zM384 275h2v1h-2zM383 276h3v1h-3zM383 277h2v1h-2zM382 278h3v1h-3zM382 279h2v1h-2zM381 280h3v1h-3zM381 281h2v1h-2zM380 282h3v1h-3zM380 283h2v1h-2zM379 284h3v1h-3zM379 285h2v1h-2zM378 286h3v1h-3zM377 287h3v1h-3zM377 288h2v1h-2zM376 289h3v1h-3zM376 290h2v1h-2zM375 291h3v1h-3zM375 292h2v1h-2zM374 293h3v1h-3zM374 294h2v1h-2zM373 295h3v1h-3zM373 296h2v1h-2zM372 297h3v1h-3zM372 298h2v1h-2zM371 299h3v1h-3zM369 300h4v1h-4zM333 301h2v1h-2zM369 301h4v1h-4zM297 302h2v1h-2zM333 302h2v1h-2zM369 302h3v1h-3zM297 303h2v1h-2zM333 303h2v1h-2zM351 303h23v1h-23zM297 304h2v1h-2zM315 304h59v1h-59zM294 305h58v1h-58zM369 305h2v1h-2zM291 306h25v1h-25zM333 306h2v1h-2zM369 306h2v1h-2zM287 307h9v1h-9zM297 307h2v1h-2zM333 307h2v1h-2zM369 307h2v1h-2zM283 308h9v1h-9zM297 308h2v1h-2zM333 308h2v1h-2zM279 309h9v1h-9zM297 309h2v1h-2zM275 310h9v1h-9zM261 311h2v1h-2zM271 311h9v1h-9zM261 312h2v1h-2zM267 312h9v1h-9zM261 313h11v1h-11zM258 314h10v1h-10zM258 315h8v1h-8zM258 316h5v1h-5zM257 317h3v1h-3zM261 317h2v1h-2zM255 318h4v1h-4zM261 318h2v1h-2zM254 319h4v1h-4zM252 320h4v1h-4zM251 321h4v1h-4zM250 322h3v1h-3zM248 323h4v1h-4zM247 324h4v1h-4zM246 325h3v1h-3zM244 326h4v1h-4zM243 327h4v1h-4zM241 328h4v1h-4zM240 329h4v1h-4zM239 330h3v1h-3zM237 331h4v1h-4zM236 332h4v1h-4zM234 333h4v1h-4zM233 334h4v1h-4zM232 335h3v1h-3zM230 336h4v1h-4zM225 337h2v1h-2zM229 337h4v1h-4zM189 338h2v1h-2zM225 338h2v1h-2zM228 338h3v1h-3zM189 339h2v1h-2zM225 339h5v1h-5zM189 340h2v1h-2zM207 340h23v1h-23zM186 341h44v1h-44zM186 342h22v1h-22zM225 342h2v1h-2zM188 343h3v1h-3zM225 343h2v1h-2zM187 344h4v1h-4zM225 344h2v1h-2zM187 345h4v1h-4zM186 346h3v1h-3zM186 347h2v1h-2zM185 348h3v1h-3zM184 349h3v1h-3zM184 350h2v1h-2zM183 351h3v1h-3zM183 352h2v1h-2zM182 353h3v1h-3zM182 354h2v1h-2zM181 355h3v1h-3zM181 356h2v1h-2zM180 357h3v1h-3zM179 358h3v1h-3zM179 359h2v1h-2zM178 360h3v1h-3zM178 361h2v1h-2zM177 362h3v1h-3zM177 363h2v1h-2zM176 364h3v1h-3zM175 365h3v1h-3zM175 366h2v1h-2zM174 367h3v1h-3zM174 368h2v1h-2zM173 369h3v1h-3zM173 370h2v1h-2zM172 371h3v1h-3zM172 372h2v1h-2zM171 373h3v1h-3zM170 374h3v1h-3zM170 375h2v1h-2zM169 376h3v1h-3zM169 377h2v1h-2zM168 378h3v1h-3zM168 379h2v1h-2zM167 380h3v1h-3zM166 381h3v1h-3zM166 382h2v1h-2zM165 383h3v1h-3zM165 384h2v1h-2zM164 385h3v1h-3zM164 386h2v1h-2zM163 387h3v1h-3zM163 388h2v1h-2zM162 389h3v1h-3zM161 390h3v1h-3zM161 391h2v1h-2zM160 392h3v1h-3zM160 393h2v1h-2zM159 394h3v1h-3zM159 395h2v1h-2zM158 396h3v1h-3zM157 397h3v1h-3zM157 398h2v1h-2zM156 399h3v1h-3zM156 400h2v1h-2zM155 401h3v1h-3zM153 402h4v1h-4zM153 403h4v1h-4zM153 404h3v1h-3zM150 405h8v1h-8zM150 406h8v1h-8zM153 407h2v1h-2zM153 408h2v1h-2zM153 409h2v1h-2z"/>
<path fill="#c80000" d="M242 68h8v1h-8zM242 69h8v1h-8zM242 70h8v1h-8zM242 71h8v1h-8zM242 72h8v1h-8zM242 73h8v1h-8zM242 74h8v1h-8zM242 75h8v1h-8zM725 86h8v1h-8zM761 86h8v1h-8zM725 87h8v1h-8zM761 87h8v1h-8zM725 88h8v1h-8zM761 88h8v1h-8zM725 89h8v1h-8zM761 89h8v1h-8zM725 90h8v1h-8zM761 90h8v1h-8zM725 91h8v1h-8zM761 91h8v1h-8zM725 92h8v1h-8zM761 92h8v1h-8zM725 93h8v1h-8zM761 93h8v1h-8zM689 164h8v1h-8zM689 165h8v1h-8zM689 166h8v1h-8zM689 167h8v1h-8zM689 168h8v1h-8zM689 169h8v1h-8zM689 170h8v1h-8zM689 171h8v1h-8zM653 176h8v1h-8zM653 177h8v1h-8zM653 178h8v1h-8zM653 179h8v1h-8zM653 180h8v1h-8zM653 181h8v1h-8zM653 182h8v1h-8zM653 183h8v1h-8zM617 189h8v1h-8zM617 190h8v1h-8zM617 191h8v1h-8zM617 192h8v1h-8zM617 193h8v1h-8zM617 194h8v1h-8zM617 195h8v1h-8zM617 196h8v1h-8zM581 205h8v1h-8zM581 206h8v1h-8zM545 207h8v1h-8zM581 207h8v1h-8zM509 208h8v1h-8zM545 208h8v1h-8zM581 208h8v1h-8zM509 209h8v1h-8zM545 209h8v1h-8zM581 209h8v1h-8zM509 210h8v1h-8zM545 210h8v1h-8zM581 210h8v1h-8zM509 211h8v1h-8zM545 211h8v1h-8zM581 211h8v1h-8zM509 212h8v1h-8zM545 212h8v1h-8zM581 212h8v1h-8zM509 213h8v1h-8zM545 213h8v1h-8zM509 214h8v1h-8zM545 214h8v1h-8zM509 215h8v1h-8zM438 243h8v1h-8zM473 243h8v1h-8zM438 244h8v1h-8zM473 244h8v1h-8zM438 245h8v1h-8zM473 245h8v1h-8zM438 246h8v1h-8zM473 246h8v1h-8zM438 247h8v1h-8zM473 247h8v1h-8zM438 248h8v1h-8zM473 248h8v1h-8zM438 249h8v1h-8zM473 249h8v1h-8zM402 250h8v1h-8zM438 250h8v1h-8zM473 250h8v1h-8zM402 251h8v1h-8zM402 252h8v1h-8zM402 253h8v1h-8zM402 254h8v1h-8zM402 255h8v1h-8zM402 256h8v1h-8zM402 257h8v1h-8zM366 302h8v1h-8zM366 303h8v1h-8zM366 304h8v1h-8zM366 305h8v1h-8zM330 306h8v1h-8zM366 306h8v1h-8zM330 307h8v1h-8zM366 307h8v1h-8zM330 308h8v1h-8zM366 308h8v1h-8zM330 309h8v1h-8zM366 309h8v1h-8zM330 310h8v1h-8zM330 311h8v1h-8zM330 312h8v1h-8zM330 313h8v1h-8zM294 315h8v1h-8zM294 316h8v1h-8zM294 317h8v1h-8zM294 318h8v1h-8zM258 319h8v1h-8zM294 319h8v1h-8zM258 320h8v1h-8zM294 320h8v1h-8zM258 321h8v1h-8zM294 321h8v1h-8zM258 322h8v1h-8zM294 322h8v1h-8zM258 323h8v1h-8zM258 324h8v1h-8zM258 325h8v1h-8zM258 326h8v1h-8zM186 340h8v1h-8zM222 340h8v1h-8zM186 341h8v1h-8zM222 341h8v1h-8zM186 342h8v1h-8zM222 342h8v1h-8zM186 343h8v1h-8zM222 343h8v1h-8zM186 344h8v1h-8zM222 344h8v1h-8zM186 345h8v1h-8zM222 345h8v1h-8zM186 346h8v1h-8zM222 346h8v1h-8zM186 347h8v1h-8zM222 347h8v1h-8zM150 402h8v1h-8zM150 403h8v1h-8zM150 404h8v1h-8zM150 405h8v1h-8zM150 406h8v1h-8zM150 407h8v1h-8zM150 408h8v1h-8zM150 409h8v1h-8z"/>
<path fill="#000" d="M118 45h648v1h-648zM118 46h1v1h-1zM765 46h1v1h-1zM118 47h1v1h-1zM765 47h1v1h-1zM118 48h1v1h-1zM765 48h1v1h-1zM118 49h1v1h-1zM765 49h1v1h-1zM118 50h1v1h-1zM765 50h1v1h-1zM118 51h1v1h-1zM765 51h1v1h-1zM118 52h1v1h-1zM765 52h1v1h-1zM118 53h1v1h-1zM765 53h1v1h-1zM118 54h1v1h-1zM765 54h1v1h-1zM118 55h1v1h-1zM765 55h1v1h-1zM118 56h1v1h-1zM765 56h1v1h-1zM118 57h1v1h-1zM765 57h1v1h-1zM118 58h1v1h-1zM765 58h1v1h-1zM118 59h1v1h-1zM765 59h1v1h-1zM118 60h1v1h-1zM765 60h1v1h-1zM118 61h1v1h-1zM765 61h1v1h-1zM118 62h1v1h-1zM765 62h1v1h-1zM118 63h1v1h-1zM765 63h1v1h-1zM118 64h1v1h-1zM765 64h1v1h-1zM118 65h1v1h-1zM765 65h1v1h-1zM118 66h1v1h-1zM765 66h1v1h-1zM118 67h1v1h-1zM765 67h1v1h-1zM118 68h1v1h-1zM765 68h1v1h-1zM118 69h1v1h-1zM765 69h1v1h-1zM118 70h1v1h-1zM765 70h1v1h-1zM118 71h1v1h-1zM765 71h1v1h-1zM118 72h1v1h-1zM765 72h1v1h-1zM118 73h1v1h-1zM765 73h1v1h-1zM118 74h1v1h-1zM765 74h1v1h-1zM118 75h1v1h-1zM765 75h1v1h-1zM118 76h1v1h-1zM765 76h1v1h-1zM118 77h1v1h-1zM765 77h1v1h-1zM118 78h1v1h-1zM765 78h1v1h-1zM118 79h1v1h-1zM765 79h1v1h-1zM118 80h1v1h-1zM765 80h1v1h-1zM118 81h1v1h-1zM765 81h1v1h-1zM118 82h1v1h-1zM765 82h1v1h-1zM118 83h1v1h-1zM765 83h1v1h-1zM118 84h1v1h-1zM765 84h1v1h-1zM118 85h1v1h-1zM765 85h1v1h-1zM118 86h1v1h-1zM765 86h1v1h-1zM118 87h1v1h-1zM765 87h1v1h-1zM118 88h1v1h-1zM765 88h1v1h-1zM118 89h1v1h-1zM765 89h1v1h-1zM118 90h1v1h-1zM765 90h1v1h-1zM118 91h1v1h-1zM765 91h1v1h-1zM118 92h1v1h-1zM765 92h1v1h-1zM118 93h1v1h-1zM765 93h1v1h-1zM118 94h1v1h-1zM765 94h1v1h-1zM118 95h1v1h-1zM765 95h1v1h-1zM118 96h1v1h-1zM765 96h1v1h-1zM118 97h1v1h-1zM765 97h1v1h-1zM118 98h1v1h-1zM765 98h1v1h-1zM118 99h1v1h-1zM765 99h1v1h-1zM118 100h1v1h-1zM765 100h1v1h-1zM118 101h1v1h-1zM765 101h1v1h-1zM118 102h1v1h-1zM765 102h1v1h-1zM118 103h1v1h-1zM765 103h1v1h-1zM118 104h1v1h-1zM765 104h1v1h-1zM118 105h1v1h-1zM765 105h1v1h-1zM118 106h1v1h-1zM765 106h1v1h-1zM118 107h1v1h-1zM765 107h1v1h-1zM118 108h1v1h-1zM765 108h1v1h-1zM118 109h1v1h-1zM765 109h1v1h-1zM118 110h1v1h-1zM765 110h1v1h-1zM118 111h1v1h-1zM765 111h1v1h-1zM118 112h1v1h-1zM765 112h1v1h-1zM118 113h1v1h-1zM765 113h1v1h-1zM118 114h1v1h-1zM765 114h1v1h-1zM118 115h1v1h-1zM765 115h1v1h-1zM118 116h1v1h-1zM765 116h1v1h-1zM118 117h1v1h-1zM765 117h1v1h-1zM118 118h1v1h-1zM765 118h1v1h-1zM118 119h1v1h-1zM765 119h1v1h-1zM118 120h1v1h-1zM765 120h1v1h-1zM118 121h1v1h-1zM765 121h1v1h-1zM118 122h1v1h-1zM765 122h1v1h-1zM118 123h1v1h-1zM765 123h1v1h-1zM118 124h1v1h-1zM765 124h1v1h-1zM118 125h1v1h-1zM765 125h1v1h-1zM118 126h1v1h-1zM765 126h1v1h-1zM118 127h1v1h-1zM765 127h1v1h-1zM118 128h1v1h-1zM765 128h1v1h-1zM118 129h1v1h-1zM765 129h1v1h-1zM118 130h1v1h-1zM765 130h1v1h-1zM118 131h1v1h-1zM765 131h1v1h-1zM118 132h1v1h-1zM765 132h1v1h-1zM118 133h1v1h-1zM765 133h1v1h-1zM118 134h1v1h-1zM765 134h1v1h-1zM118 135h1v1h-1zM765 135h1v1h-1zM118 136h1v1h-1zM765 136h1v1h-1zM118 137h1v1h-1zM765 137h1v1h-1zM118 138h1v1h-1zM765 138h1v1h-1zM118 139h1v1h-1zM765 139h1v1h-1zM118 140h1v1h-1zM765 140h1v1h-1zM118 141h1v1h-1zM765 141h1v1h-1zM118 142h1v1h-1zM765 142h1v1h-1zM118 143h1v1h-1zM765 143h1v1h-1zM118 144h1v1h-1zM765 144h1v1h-1zM118 145h1v1h-1zM765 145h1v1h-1zM118 146h1v1h-1zM765 146h1v1h-1zM118 147h1v1h-1zM765 147h1v1h-1zM118 148h1v1h-1zM765 148h1v1h-1zM118 149h1v1h-1zM765 149h1v1h-1zM118 150h1v1h-1zM765 150h1v1h-1zM118 151h1v1h-1zM765 151h1v1h-1zM118 152h1v1h-1zM765 152h1v1h-1zM118 153h1v1h-1zM765 153h1v1h-1zM118 154h1v1h-1zM765 154h1v1h-1zM118 155h1v1h-1zM765 155h1v1h-1zM118 156h1v1h-1zM765 156h1v1h-1zM118 157h1v1h-1zM765 157h1v1h-1zM118 158h1v1h-1zM765 158h1v1h-1zM118 159h1v1h-1zM765 159h1v1h-1zM118 160h1v1h-1zM765 160h1v1h-1zM118 161h1v1h-1zM765 161h1v1h-1zM118 162h1v1h-1zM765 162h1v1h-1zM118 163h1v1h-1zM765 163h1v1h-1zM118 164h1v1h-1zM765 164h1v1h-1zM118 165h1v1h-1zM765 165h1v1h-1zM118 166h1v1h-1zM765 166h1v1h-1zM118 167h1v1h-1zM765 167h1v1h-1zM118 168h1v1h-1zM765 168h1v1h-1zM118 169h1v1h-1zM765 169h1v1h-1zM118 170h1v1h-1zM765 170h1v1h-1zM118 171h1v1h-1zM765 171h1v1h-1zM118 172h1v1h-1zM765 172h1v1h-1zM118 173h1v1h-1zM765 173h1v1h-1zM118 174h1v1h-1zM765 174h1v1h-1zM118 175h1v1h-1zM765 175h1v1h-1zM118 176h1v1h-1zM765 176h1v1h-1zM118 177h1v1h-1zM765 177h1v1h-1zM118 178h1v1h-1zM765 178h1v1h-1zM118 179h1v1h-1zM765 179h1v1h-1zM118 180h1v1h-1zM765 180h1v1h-1zM118 181h1v1h-1zM765 181h1v1h-1zM118 182h1v1h-1zM765 182h1v1h-1zM118 183h1v1h-1zM765 183h1v1h-1zM118 184h1v1h-1zM765 184h1v1h-1zM118 185h1v1h-1zM765 185h1v1h-1zM118 186h1v1h-1zM765 186h1v1h-1zM118 187h1v1h-1zM765 187h1v1h-1zM118 188h1v1h-1zM765 188h1v1h-1zM118 189h1v1h-1zM765 189h1v1h-1zM118 190h1v1h-1zM765 190h1v1h-1zM118 191h1v1h-1zM765 191h1v1h-1zM118 192h1v1h-1zM765 192h1v1h-1zM118 193h1v1h-1zM765 193h1v1h-1zM118 194h1v1h-1zM765 194h1v1h-1zM118 195h1v1h-1zM765 195h1v1h-1zM118 196h1v1h-1zM765 196h1v1h-1zM118 197h1v1h-1zM765 197h1v1h-1zM118 198h1v1h-1zM765 198h1v1h-1zM118 199h1v1h-1zM765 199h1v1h-1zM118 200h1v1h-1zM765 200h1v1h-1zM118 201h1v1h-1zM765 201h1v1h-1zM118 202h1v1h-1zM765 202h1v1h-1zM118 203h1v1h-1zM765 203h1v1h-1zM118 204h1v1h-1zM765 204h1v1h-1zM118 205h1v1h-1zM765 205h1v1h-1zM118 206h1v1h-1zM765 206h1v1h-1zM118 207h1v1h-1zM765 207h1v1h-1zM118 208h1v1h-1zM765 208h1v1h-1zM118 209h1v1h-1zM765 209h1v1h-1zM118 210h1v1h-1zM765 210h1v1h-1zM118 211h1v1h-1zM765 211h1v1h-1zM118 212h1v1h-1zM765 212h1v1h-1zM118 213h1v1h-1zM765 213h1v1h-1zM118 214h1v1h-1zM765 214h1v1h-1zM118 215h1v1h-1zM765 215h1v1h-1zM118 216h1v1h-1zM765 216h1v1h-1zM118 217h1v1h-1zM765 217h1v1h-1zM118 218h1v1h-1zM765 218h1v1h-1zM118 219h1v1h-1zM765 219h1v1h-1zM118 220h1v1h-1zM765 220h1v1h-1zM118 221h1v1h-1zM765 221h1v1h-1zM118 222h1v1h-1zM765 222h1v1h-1zM118 223h1v1h-1zM765 223h1v1h-1zM118 224h1v1h-1zM765 224h1v1h-1zM118 225h1v1h-1zM765 225h1v1h-1zM118 226h1v1h-1zM765 226h1v1h-1zM118 227h1v1h-1zM765 227h1v1h-1zM118 228h1v1h-1zM765 228h1v1h-1zM118 229h1v1h-1zM765 229h1v1h-1zM118 230h1v1h-1zM765 230h1v1h-1zM118 231h1v1h-1zM765 231h1v1h-1zM118 232h1v1h-1zM765 232h1v1h-1zM118 233h1v1h-1zM765 233h1v1h-1zM118 234h1v1h-1zM765 234h1v1h-1zM118 235h1v1h-1zM765 235h1v1h-1zM118 236h1v1h-1zM765 236h1v1h-1zM118 237h1v1h-1zM765 237h1v1h-1zM118 238h1v1h-1zM765 238h1v1h-1zM118 239h1v1h-1zM765 239h1v1h-1zM118 240h1v1h-1zM765 240h1v1h-1zM118 241h1v1h-1zM765 241h1v1h-1zM118 242h1v1h-1zM765 242h1v1h-1zM118 243h1v1h-1zM765 243h1v1h-1zM118 244h1v1h-1zM765 244h1v1h-1zM118 245h1v1h-1zM765 245h1v1h-1zM118 246h1v1h-1zM765 246h1v1h-1zM118 247h1v1h-1zM765 247h1v1h-1zM118 248h1v1h-1zM765 248h1v1h-1zM118 249h1v1h-1zM765 249h1v1h-1zM118 250h1v1h-1zM765 250h1v1h-1zM118 251h1v1h-1zM765 251h1v1h-1zM118 252h1v1h-1zM765 252h1v1h-1zM118 253h1v1h-1zM765 253h1v1h-1zM118 254h1v1h-1zM765 254h1v1h-1zM118 255h1v1h-1zM765 255h1v1h-1zM118 256h1v1h-1zM765 256h1v1h-1zM118 257h1v1h-1zM765 257h1v1h-1zM118 258h1v1h-1zM765 258h1v1h-1zM118 259h1v1h-1zM765 259h1v1h-1zM118 260h1v1h-1zM765 260h1v1h-1zM118 261h1v1h-1zM765 261h1v1h-1zM118 262h1v1h-1zM765 262h1v1h-1zM118 263h1v1h-1zM765 263h1v1h-1zM118 264h1v1h-1zM765 264h1v1h-1zM118 265h1v1h-1zM765 265h1v1h-1zM118 266h1v1h-1zM765 266h1v1h-1zM118 267h1v1h-1zM765 267h1v1h-1zM118 268h1v1h-1zM765 268h1v1h-1zM118 269h1v1h-1zM765 269h1v1h-1zM118 270h1v1h-1zM765 270h1v1h-1zM118 271h1v1h-1zM765 271h1v1h-1zM118 272h1v1h-1zM765 272h1v1h-1zM118 273h1v1h-1zM765 273h1v1h-1zM118 274h1v1h-1zM765 274h1v1h-1zM118 275h1v1h-1zM765 275h1v1h-1zM118 276h1v1h-1zM765 276h1v1h-1zM118 277h1v1h-1zM765 277h1v1h-1zM118 278h1v1h-1zM765 278h1v1h-1zM118 279h1v1h-1zM765 279h1v1h-1zM118 280h1v1h-1zM765 280h1v1h-1zM118 281h1v1h-1zM765 281h1v1h-1zM118 282h1v1h-1zM765 282h1v1h-1zM118 283h1v1h-1zM765 283h1v1h-1zM118 284h1v1h-1zM765 284h1v1h-1zM118 285h1v1h-1zM765 285h1v1h-1zM118 286h1v1h-1zM765 286h1v1h-1zM118 287h1v1h-1zM765 287h1v1h-1zM118 288h1v1h-1zM765 288h1v1h-1zM118 289h1v1h-1zM765 289h1v1h-1zM118 290h1v1h-1zM765 290h1v1h-1zM118 291h1v1h-1zM765 291h1v1h-1zM118 292h1v1h-1zM765 292h1v1h-1zM118 293h1v1h-1zM765 293h1v1h-1zM118 294h1v1h-1zM765 294h1v1h-1zM118 295h1v1h-1zM765 295h1v1h-1zM118 296h1v1h-1zM765 296h1v1h-1zM118 297h1v1h-1zM765 297h1v1h-1zM118 298h1v1h-1zM765 298h1v1h-1zM118 299h1v1h-1zM765 299h1v1h-1zM118 300h1v1h-1zM765 300h1v1h-1zM118 301h1v1h-1zM765 301h1v1h-1zM118 302h1v1h-1zM765 302h1v1h-1zM118 303h1v1h-1zM765 303h1v1h-1zM118 304h1v1h-1zM765 304h1v1h-1zM118 305h1v1h-1zM765 305h1v1h-1zM118 306h1v1h-1zM765 306h1v1h-1zM118 307h1v1h-1zM765 307h1v1h-1zM118 308h1v1h-1zM765 308h1v1h-1zM118 309h1v1h-1zM765 309h1v1h-1zM118 310h1v1h-1zM765 310h1v1h-1zM118 311h1v1h-1zM765 311h1v1h-1zM118 312h1v1h-1zM765 312h1v1h-1zM118 313h1v1h-1zM765 313h1v1h-1zM118 314h1v1h-1zM765 314h1v1h-1zM118 315h1v1h-1zM765 315h1v1h-1zM118 316h1v1h-1zM765 316h1v1h-1zM118 317h1v1h-1zM765 317h1v1h-1zM118 318h1v1h-1zM765 318h1v1h-1zM118 319h1v1h-1zM765 319h1v1h-1zM118 320h1v1h-1zM765 320h1v1h-1zM118 321h1v1h-1zM765 321h1v1h-1zM118 322h1v1h-1zM765 322h1v1h-1zM118 323h1v1h-1zM765 323h1v1h-1zM118 324h1v1h-1zM765 324h1v1h-1zM118 325h1v1h-1zM765 325h1v1h-1zM118 326h1v1h-1zM765 326h1v1h-1zM118 327h1v1h-1zM765 327h1v1h-1zM118 328h1v1h-1zM765 328h1v1h-1zM118 329h1v1h-1zM765 329h1v1h-1zM118 330h1v1h-1zM765 330h1v1h-1zM118 331h1v1h-1zM765 331h1v1h-1zM118 332h1v1h-1zM765 332h1v1h-1zM118 333h1v1h-1zM765 333h1v1h-1zM118 334h1v1h-1zM765 334h1v1h-1zM118 335h1v1h-1zM765 335h1v1h-1zM118 336h1v1h-1zM765 336h1v1h-1zM118 337h1v1h-1zM765 337h1v1h-1zM118 338h1v1h-1zM765 338h1v1h-1zM118 339h1v1h-1zM765 339h1v1h-1zM118 340h1v1h-1zM765 340h1v1h-1zM118 341h1v1h-1zM765 341h1v1h-1zM118 342h1v1h-1zM765 342h1v1h-1zM118 343h1v1h-1zM765 343h1v1h-1zM118 344h1v1h-1zM765 344h1v1h-1zM118 345h1v1h-1zM765 345h1v1h-1zM118 346h1v1h-1zM765 346h1v1h-1zM118 347h1v1h-1zM765 347h1v1h-1zM118 348h1v1h-1zM765 348h1v1h-1zM118 349h1v1h-1zM765 349h1v1h-1zM118 350h1v1h-1zM765 350h1v1h-1zM118 351h1v1h-1zM765 351h1v1h-1zM118 352h1v1h-1zM765 352h1v1h-1zM118 353h1v1h-1zM765 353h1v1h-1zM118 354h1v1h-1zM765 354h1v1h-1zM118 355h1v1h-1zM765 355h1v1h-1zM118 356h1v1h-1zM765 356h1v1h-1zM118 357h1v1h-1zM765 357h1v1h-1zM118 358h1v1h-1zM765 358h1v1h-1zM118 359h1v1h-1zM765 359h1v1h-1zM118 360h1v1h-1zM765 360h1v1h-1zM118 361h1v1h-1zM765 361h1v1h-1zM118 362h1v1h-1zM765 362h1v1h-1zM118 363h1v1h-1zM765 363h1v1h-1zM118 364h1v1h-1zM765 364h1v1h-1zM118 365h1v1h-1zM765 365h1v1h-1zM118 366h1v1h-1zM765 366h1v1h-1zM118 367h1v1h-1zM765 367h1v1h-1zM118 368h1v1h-1zM765 368h1v1h-1zM118 369h1v1h-1zM765 369h1v1h-1zM118 370h1v1h-1zM765 370h1v1h-1zM118 371h1v1h-1zM765 371h1v1h-1zM118 372h1v1h-1zM765 372h1v1h-1zM118 373h1v1h-1zM765 373h1v1h-1zM118 374h1v1h-1zM765 374h1v1h-1zM118 375h1v1h-1zM765 375h1v1h-1zM118 376h1v1h-1zM765 376h1v1h-1zM118 377h1v1h-1zM765 377h1v1h-1zM118 378h1v1h-1zM765 378h1v1h-1zM118 379h1v1h-1zM765 379h1v1h-1zM118 380h1v1h-1zM765 380h1v1h-1zM118 381h1v1h-1zM765 381h1v1h-1zM118 382h1v1h-1zM765 382h1v1h-1zM118 383h1v1h-1zM765 383h1v1h-1zM118 384h1v1h-1zM765 384h1v1h-1zM118 385h1v1h-1zM765 385h1v1h-1zM118 386h1v1h-1zM765 386h1v1h-1zM118 387h1v1h-1zM765 387h1v1h-1zM118 388h1v1h-1zM765 388h1v1h-1zM118 389h1v1h-1zM765 389h1v1h-1zM118 390h1v1h-1zM765 390h1v1h-1zM118 391h1v1h-1zM765 391h1v1h-1zM118 392h1v1h-1zM765 392h1v1h-1zM118 393h1v1h-1zM765 393h1v1h-1zM118 394h1v1h-1zM765 394h1v1h-1zM118 395h1v1h-1zM765 395h1v1h-1zM118 396h1v1h-1zM765 396h1v1h-1zM118 397h1v1h-1zM765 397h1v1h-1zM118 398h1v1h-1zM765 398h1v1h-1zM118 399h1v1h-1zM765 399h1v1h-1zM118 400h1v1h-1zM765 400h1v1h-1zM118 401h1v1h-1zM765 401h1v1h-1zM118 402h1v1h-1zM765 402h1v1h-1zM118 403h1v1h-1zM765 403h1v1h-1zM118 404h1v1h-1zM765 404h1v1h-1zM118 405h1v1h-1zM765 405h1v1h-1zM118 406h1v1h-1zM765 406h1v1h-1zM118 407h1v1h-1zM765 407h1v1h-1zM118 408h1v1h-1zM765 408h1v1h-1zM118 409h1v1h-1zM765 409h1v1h-1zM118 410h1v1h-1zM765 410h1v1h-1zM118 411h1v1h-1zM765 411h1v1h-1zM118 412h1v1h-1zM765 412h1v1h-1zM118 413h1v1h-1zM765 413h1v1h-1zM118 414h1v1h-1zM765 414h1v1h-1zM118 415h1v1h-1zM765 415h1v1h-1zM118 416h1v1h-1zM765 416h1v1h-1zM118 417h1v1h-1zM765 417h1v1h-1zM118 418h1v1h-1zM765 418h1v1h-1zM118 419h1v1h-1zM765 419h1v1h-1zM118 420h1v1h-1zM765 420h1v1h-1zM118 421h1v1h-1zM765 421h1v1h-1zM118 422h1v1h-1zM765 422h1v1h-1zM118 423h1v1h-1zM765 423h1v1h-1zM118 424h1v1h-1zM765 424h1v1h-1zM118 425h1v1h-1zM765 425h1v1h-1zM118 426h1v1h-1zM765 426h1v1h-1zM118 427h1v1h-1zM765 427h1v1h-1zM118 428h1v1h-1zM765 428h1v1h-1zM118 429h1v1h-1zM765 429h1v1h-1zM118 430h1v1h-1zM765 430h1v1h-1zM118 431h1v1h-1zM765 431h1v1h-1zM118 432h1v1h-1zM765 432h1v1h-1zM118 433h1v1h-1zM765 433h1v1h-1zM118 434h1v1h-1zM765 434h1v1h-1zM118 435h1v1h-1zM765 435h1v1h-1zM118 436h1v1h-1zM765 436h1v1h-1zM118 437h1v1h-1zM765 437h1v1h-1zM118 438h1v1h-1zM765 438h1v1h-1zM118 439h1v1h-1zM765 439h1v1h-1zM118 440h1v1h-1zM765 440h1v1h-1zM118 441h1v1h-1zM765 441h1v1h-1zM118 442h1v1h-1zM765 442h1v1h-1zM118 443h1v1h-1zM765 443h1v1h-1zM118 444h1v1h-1zM765 444h1v1h-1zM118 445h1v1h-1zM765 445h1v1h-1zM118 446h1v1h-1zM765 446h1v1h-1zM118 447h1v1h-1zM765 447h1v1h-1zM118 448h1v1h-1zM765 448h1v1h-1zM118 449h648v1h-648z"/></svg>
<div id="txt">
<div class="t" style="left:55px;top:439px;letter-spacing:0.1016px">300000</div>
<div class="t" style="left:55px;top:394px;letter-spacing:0.1016px">400000</div>
<div class="t" style="left:55px;top:349px;letter-spacing:0.1016px">500000</div>
<div class="t" style="left:55px;top:304px;letter-spacing:0.1016px">600000</div>
<div class="t" style="left:55px;top:259px;letter-spacing:0.1016px">700000</div>
<div class="t" style="left:55px;top:215px;letter-spacing:0.1016px">800000</div>
<div class="t" style="left:55px;top:170px;letter-spacing:0.1016px">900000</div>
<div class="t" style="left:46px;top:125px;letter-spacing:0.1016px">1000000</div>
<div class="t" style="left:47px;top:80px;letter-spacing:0.1016px">1100000</div>
<div class="t" style="left:46px;top:35px;letter-spacing:0.1016px">1200000</div>
<div class="t" style="left:115px;top:454px;">0</div>
<div class="t" style="left:187px;top:454px;">2</div>
<div class="t" style="left:259px;top:454px;">4</div>
<div class="t" style="left:331px;top:454px;">6</div>
<div class="t" style="left:403px;top:454px;">8</div>
<div class="t" style="left:470px;top:454px;">10</div>
<div class="t" style="left:542px;top:454px;">12</div>
<div class="t" style="left:614px;top:454px;">14</div>
<div class="t" style="left:686px;top:454px;">16</div>
<div class="t" style="left:758px;top:454px;">18</div>
<div class="t" style="left:334px;top:13px;">Mar 2003 95135 Home Prices</div>
<div class="t" style="left:152px;top:47px;word-spacing:-1px">List Price</div>
<div class="t" style="left:145px;top:62px;">Sale Price</div>
<div class="t" style="left:3px;top:0px;width:18px;height:18px"><div style="position:absolute;left:0;top:0;white-space:nowrap;transform-origin:0 0;transform:translate(0px,265px) rotate(-90deg)">Price</div></div>
</div>
</body></html>
